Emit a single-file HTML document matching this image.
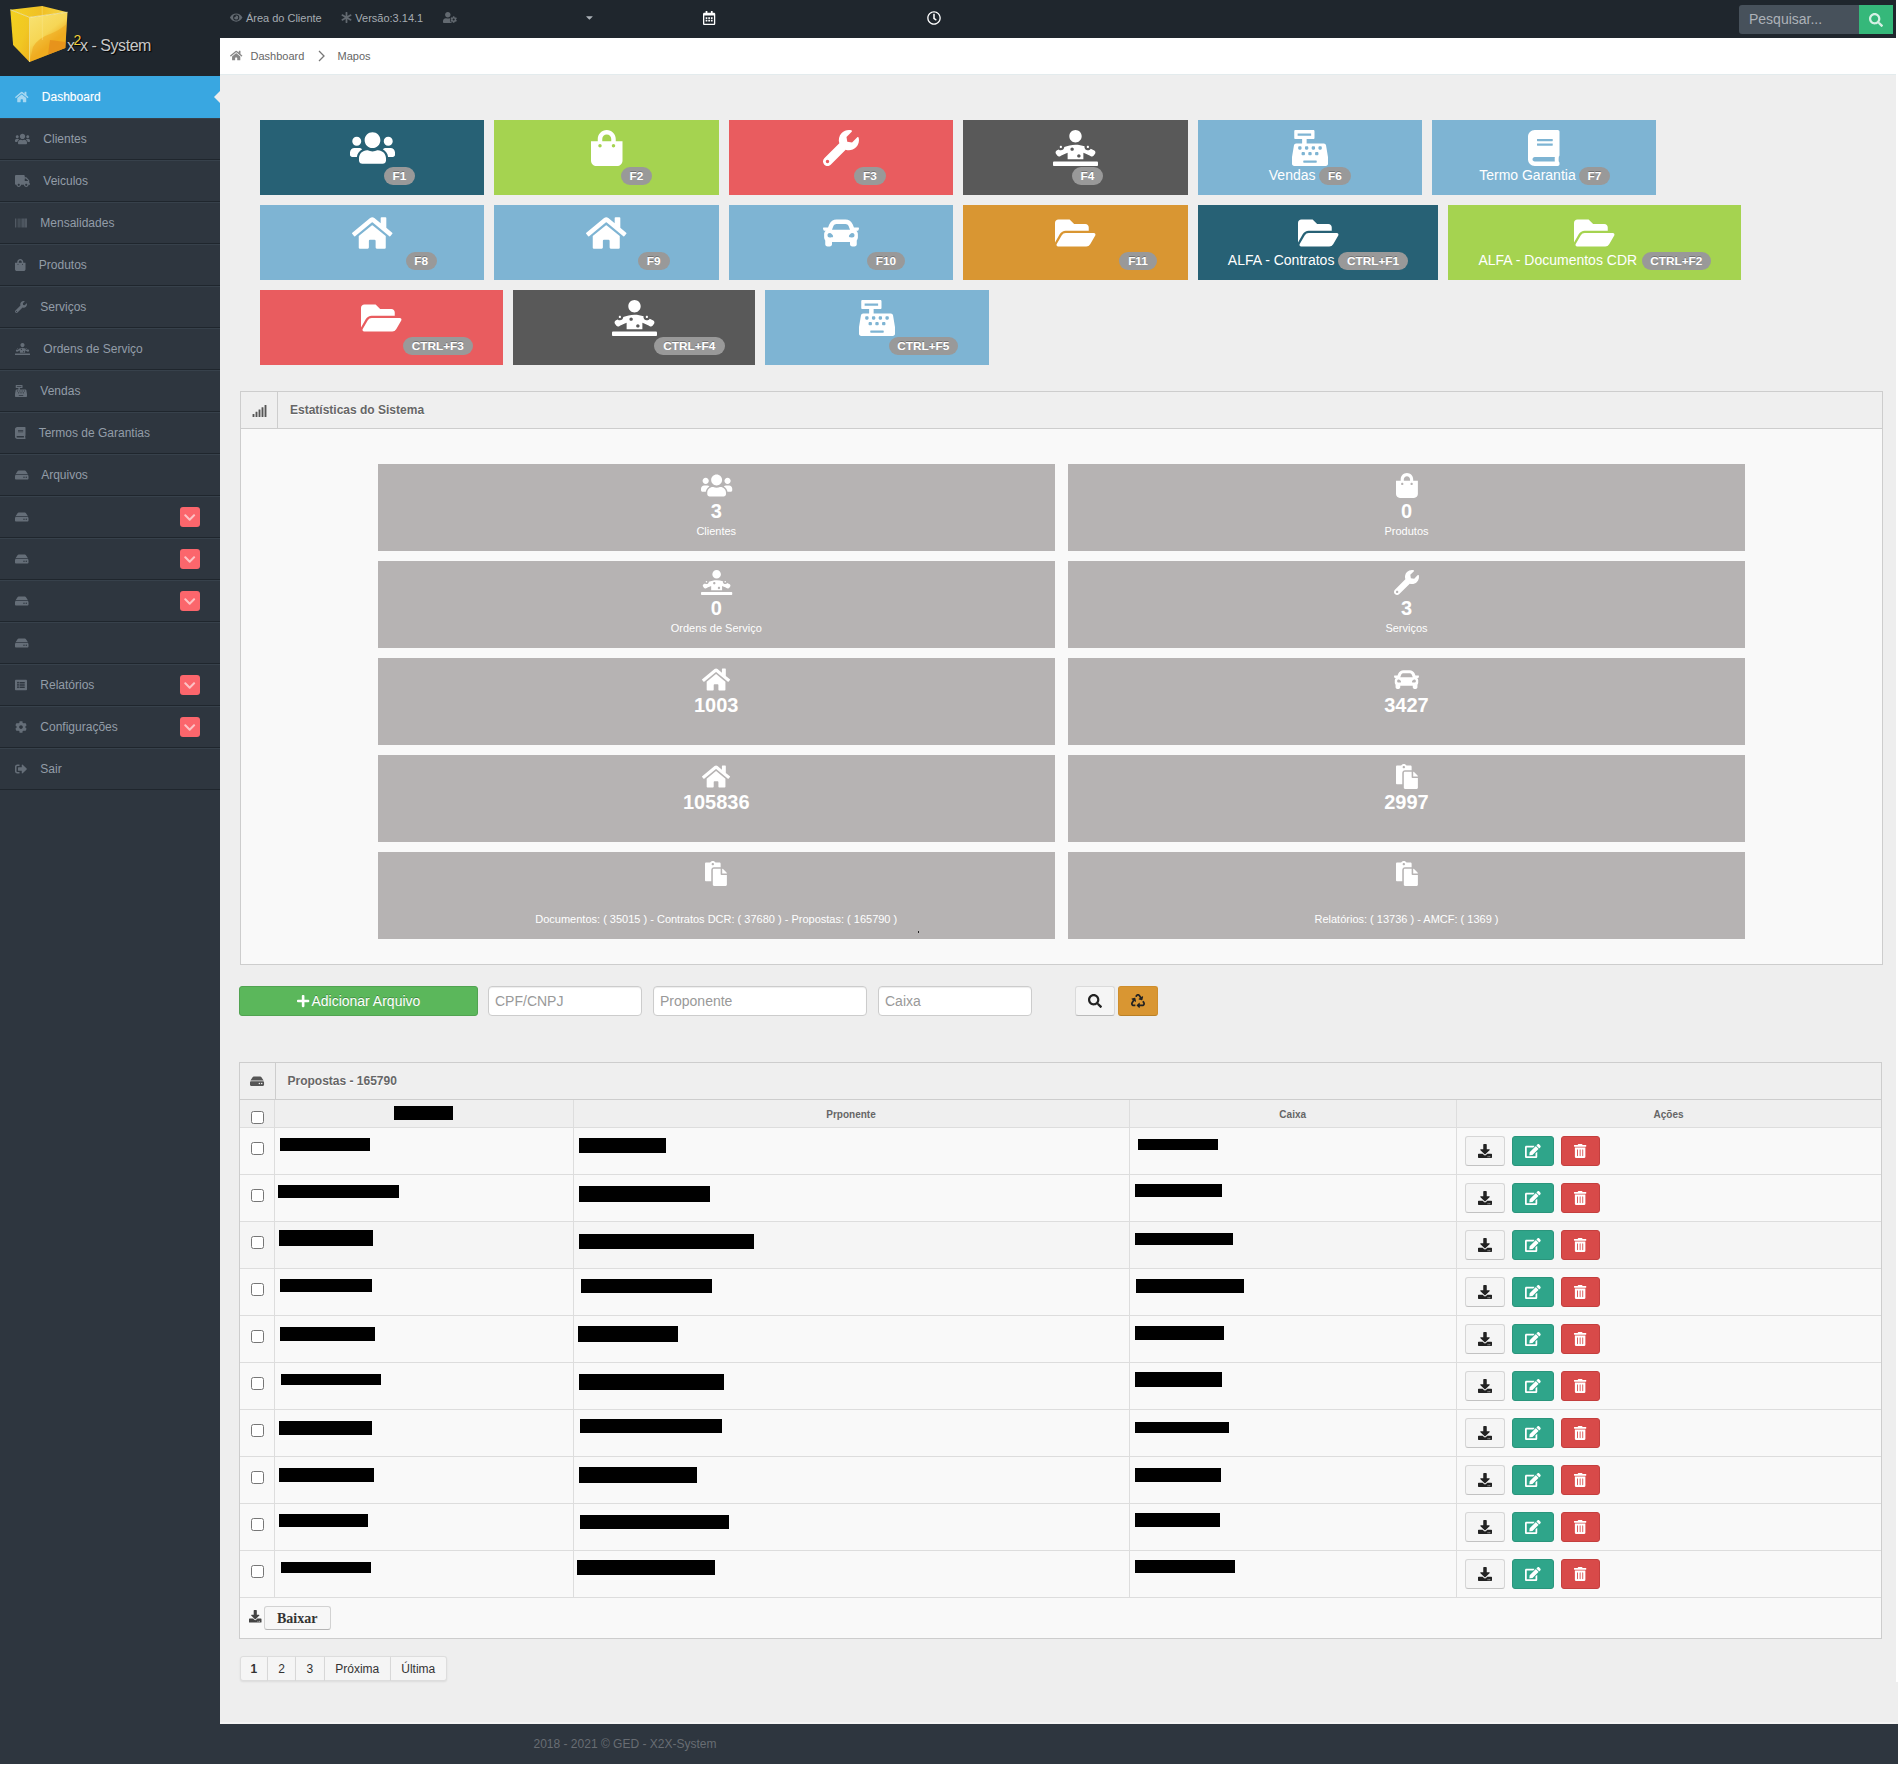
<!DOCTYPE html><html lang="pt-br"><head><meta charset="utf-8"><title>X2X - System</title><style>

*{box-sizing:border-box}
html,body{margin:0;padding:0}
body{width:1898px;height:1768px;background:#fff;font-family:"Liberation Sans",Arial,sans-serif;font-size:12px;color:#666;overflow:hidden;position:relative}
.ic{display:inline-block;vertical-align:-0.125em;overflow:visible}
#wrap{position:absolute;left:0;top:0;width:1896px;height:1763.5px;background:#2E363F;overflow:hidden}
#header{position:absolute;left:0;top:0;width:1896px;height:38px;background:#1f262d}
#logo{position:absolute;left:0;top:0;width:220px;height:76px;background:#1f262d}
#logo .t{position:absolute;left:67px;top:35.5px;font-size:16px;line-height:20px;color:#c9c9c9;white-space:nowrap;text-shadow:1px 1px 1px #000;letter-spacing:-0.45px}
#logo .t sup{font-size:14px;color:#f2cf3a;position:relative;top:-5.5px;vertical-align:baseline;margin:0 -1px}
.un{position:absolute;top:0;height:38px;line-height:37px;font-size:11px;color:#a6acb2;white-space:nowrap}
#search-in{position:absolute;left:1739px;top:5px;width:120px;height:29px;background:#47515b;border-radius:3px 0 0 3px;color:#adb2b8;font-size:14px;line-height:28px;padding-left:10px}
#search-bt{position:absolute;left:1859px;top:5px;width:34px;height:29px;background:#35b87a;display:flex;align-items:center;justify-content:center}
#search-bt .ic{display:block}
#crumb{position:absolute;left:220px;top:38px;width:1676px;height:37px;background:#fff;border-bottom:1px solid #e3ebed}
#crumb span{position:absolute;top:0;line-height:36px;font-size:11px;color:#666;white-space:nowrap}
#content{position:absolute;left:220px;top:75px;width:1676px;height:1649px;background:#eeeeee}
#sidebar{position:absolute;left:0;top:76px;width:220px}
#sidebar ul{list-style:none;margin:0;padding:0}
#sidebar li{height:42px;border-top:1px solid #37414b;border-bottom:1px solid #1f262d;position:relative;padding:10px 0 10px 15px;line-height:20px;font-size:12px;color:#939da8;white-space:nowrap}
#sidebar li.active{background:#39a7e1;color:#fff;border-top-color:#39a7e1;border-bottom-color:#39a7e1;text-shadow:0 0 1px rgba(255,255,255,.4)}
#sidebar li>.ic{margin-right:10px}
#sidebar li.active:after{content:"";position:absolute;right:0;top:14px;border:6px solid transparent;border-right:6px solid #eee;border-left:0;width:0;height:0}
.lab{position:absolute;left:180px;top:10px;width:20px;height:20px;border-radius:3px;background:#fb666c;text-align:center;line-height:20px}
.tile{position:absolute;height:75px;color:#fff;font-size:14px}
.tile .icw{position:absolute;left:0;right:0;top:9.5px;text-align:center;line-height:36px;height:36px}
.tile .icw .ic{vertical-align:top}
.tile .txt{position:absolute;top:45px;line-height:20px;white-space:nowrap}
.badge{position:absolute;height:18px;border-radius:9px;background:#999;color:#fff;font-weight:bold;font-size:11.844px;line-height:18px;text-align:center;white-space:nowrap;text-shadow:0 -1px 0 rgba(0,0,0,.25)}
.wbox{position:absolute;background:#f9f9f9;border:1px solid #cdcdcd}
.wtitle{position:absolute;left:0;top:0;right:0;height:37px;background:#efefef;border-bottom:1px solid #cdcdcd}
.wtitle .ici{position:absolute;left:0;top:0;width:37px;height:36px;border-right:1px solid #cdcdcd;display:flex;align-items:center;justify-content:center;padding-top:1px}
.wtitle .ici .ic{display:block}
.wtitle h5{position:absolute;left:49px;top:0;margin:0;font-size:12px;line-height:36px;font-weight:bold;color:#666;text-shadow:0 1px 0 #fff}
.stat{position:absolute;height:86.5px;background:#b6b3b3;color:#fff;text-align:center}
.stat .si{position:absolute;left:0;right:0;top:9px;height:25px;line-height:25px}
.stat .si .ic{vertical-align:top}
.stat strong{position:absolute;left:0;right:0;top:35px;font-size:20px;line-height:24px;font-weight:bold}
.stat small{position:absolute;left:0;right:0;top:58px;font-size:11px;line-height:18px}
.inp{position:absolute;top:986px;height:30px;background:#fff;border:1px solid #ccc;border-radius:4px;font-size:14px;line-height:28px;color:#999;padding-left:6px;box-shadow:inset 0 1px 1px rgba(0,0,0,.075)}
.btn{position:absolute;border-radius:3px;text-align:center;display:flex;align-items:center;justify-content:center}
.btn .ic{vertical-align:top;display:block}
table{border-collapse:collapse}
.pg{position:absolute;top:1655.5px;height:25px;border:1px solid #ddd;border-left:0;background:#f5f5f5;font-size:12px;line-height:24px;color:#333;text-align:center;box-shadow:0 1px 2px rgba(0,0,0,.08)}
.chk{position:absolute;width:13px;height:13px;border:1px solid #767676;border-radius:2.5px;background:#fff}
.bar{position:absolute;background:#000}

</style></head><body>
<div id="wrap">
<div id="content"></div>
<div id="header"></div>
<div id="logo"><svg style="position:absolute;left:0;top:0" width="80" height="70" viewBox="0 0 80 70">
<defs>
<linearGradient id="gl" x1="0" y1="0" x2="1" y2="1"><stop offset="0" stop-color="#f3d21f"/><stop offset=".6" stop-color="#f1c723"/><stop offset="1" stop-color="#eeb21c"/></linearGradient>
<linearGradient id="gr" x1="0" y1="0" x2="0.6" y2="1"><stop offset="0" stop-color="#f8e374"/><stop offset=".5" stop-color="#f6d655"/><stop offset=".72" stop-color="#efb225"/><stop offset="1" stop-color="#f0b81f"/></linearGradient>
<linearGradient id="gt" x1="0" y1="0" x2="1" y2="0"><stop offset="0" stop-color="#f3d325"/><stop offset=".55" stop-color="#f0bf24"/><stop offset="1" stop-color="#f5d84a"/></linearGradient>
</defs>
<polygon points="10.3,9.7 42.2,6.1 67.5,12.2 29.5,17.3" fill="url(#gt)"/>
<polygon points="10.3,9.7 29.5,17.3 29.5,62 13.1,45.1" fill="url(#gl)"/>
<polygon points="29.5,17.3 67.5,12.2 65.3,48.1 29.5,62" fill="url(#gr)"/>
<path d="M29.5 62 L33 47 Q38 38 50 34 Q60 30 66.5 24 L65.3 48.1 Z" fill="#eea61c" opacity=".55"/>
<path d="M50 40 L65.5 42 L65.3 48.1 L48 54.5 Z" fill="#e0801a" opacity=".55"/>
<polyline points="10.3,9.7 29.5,17.3 67.5,12.2" fill="none" stroke="#fdf3b8" stroke-width="0.8" opacity=".9"/>
<line x1="29.5" y1="17.3" x2="29.5" y2="62" stroke="#fbe98f" stroke-width="1" opacity=".8"/>
<line x1="42.2" y1="6.1" x2="42.5" y2="40" stroke="#fbe98f" stroke-width="1.2" opacity=".35"/>
</svg><div class="t">x<sup>2</sup>x - System</div></div>
<div class="un" style="left:230px"><svg class="ic" viewBox="0 0 576 512" style="width:12.38px;height:11px;fill:#626970;"><path d="M572.52 241.4C518.29 135.59 410.93 64 288 64S57.68 135.64 3.480 241.410a32.350 32.350 0 0 0 0 29.190C57.710 376.410 165.070 448 288 448s230.320-71.640 284.520-177.410a32.350 32.350 0 0 0 0-29.190zM288 400a144 144 0 1 1 144-144 143.930 143.930 0 0 1-144 144zm0-240a95.310 95.310 0 0 0-25.310 3.790 47.850 47.850 0 0 1-66.900 66.900A95.780 95.780 0 1 0 288 160z"/></svg><span style="margin-left:3.5px">Área do Cliente</span></div>
<div class="un" style="left:341px"><svg class="ic" viewBox="0 0 512 512" style="width:11.00px;height:11px;fill:#626970;"><path d="M478.21 334.093L336 256l142.210-78.093c11.795-6.477 15.961-21.384 9.232-33.037l-19.480-33.741c-6.728-11.653-21.720-15.499-33.227-8.523L296 186.718l3.475-162.204C299.763 11.061 288.937 0 275.480 0h-38.960c-13.456 0-24.283 11.061-23.994 24.514L216 186.718 77.265 102.607c-11.506-6.976-26.499-3.130-33.227 8.523l-19.480 33.741c-6.728 11.653-2.562 26.560 9.233 33.037L176 256 33.790 334.093c-11.795 6.477-15.961 21.384-9.232 33.037l19.480 33.741c6.728 11.653 21.721 15.499 33.227 8.523L216 325.282l-3.475 162.204C212.237 500.939 223.064 512 236.520 512h38.961c13.456 0 24.283-11.061 23.995-24.514L296 325.282l138.735 84.111c11.506 6.976 26.499 3.130 33.227-8.523l19.480-33.741c6.728-11.653 2.563-26.559-9.232-33.036z"/></svg><span style="margin-left:3.3px">Versão:3.14.1</span></div>
<div class="un" style="left:443px"><svg class="ic" viewBox="0 0 640 512" style="width:13.75px;height:11px;fill:#626970;"><path d="M610.5 373.3c2.6-14.1 2.6-28.5 0-42.6l25.800-14.900c3-1.700 4.300-5.200 3.300-8.500-6.700-21.600-18.200-41.200-33.200-57.400-2.300-2.500-6-3.100-9-1.400l-25.800 14.900c-10.900-9.300-23.400-16.500-36.900-21.300v-29.800c0-3.400-2.400-6.400-5.700-7.100-22.300-5-45-4.800-66.200 0-3.300.7-5.700 3.700-5.700 7.100v29.800c-13.500 4.800-26 12-36.900 21.300l-25.800-14.900c-2.900-1.700-6.700-1.100-9 1.400-15 16.200-26.500 35.800-33.200 57.400-1 3.300.4 6.800 3.300 8.500l25.800 14.900c-2.600 14.100-2.600 28.500 0 42.600l-25.800 14.900c-3 1.700-4.300 5.200-3.300 8.500 6.700 21.600 18.200 41.100 33.200 57.400 2.300 2.500 6 3.100 9 1.400l25.800-14.900c10.900 9.300 23.400 16.500 36.900 21.300v29.800c0 3.400 2.400 6.400 5.700 7.100 22.300 5 45 4.800 66.200 0 3.300-.7 5.700-3.700 5.700-7.100v-29.800c13.500-4.800 26-12 36.900-21.300l25.800 14.900c2.900 1.700 6.700 1.100 9-1.400 15-16.200 26.500-35.800 33.200-57.400 1-3.300-.4-6.800-3.300-8.500l-25.800-14.900zM496 400.500c-26.800 0-48.500-21.800-48.500-48.500s21.800-48.500 48.500-48.500 48.500 21.800 48.500 48.500-21.700 48.500-48.500 48.500zM224 256c70.700 0 128-57.300 128-128S294.700 0 224 0 96 57.300 96 128s57.300 128 128 128zm201.200 226.500c-2.300-1.200-4.600-2.600-6.800-3.900l-7.900 4.600c-6 3.400-12.800 5.300-19.600 5.300-10.900 0-21.400-4.600-28.900-12.600-18.300-19.800-32.300-43.900-40.200-69.600-5.500-17.700 1.900-36.400 17.900-45.700l7.900-4.600c-.1-2.600-.1-5.200 0-7.800l-7.900-4.600c-16-9.200-23.400-28-17.900-45.700.9-2.900 2.200-5.800 3.200-8.700-3.800-.3-7.500-1.200-11.400-1.200h-16.700c-22.200 10.200-46.900 16-72.900 16s-50.600-5.800-72.900-16h-16.700C60.200 288 0 348.200 0 422.400V464c0 26.500 21.500 48 48 48h352c10.100 0 19.500-3.200 27.200-8.500-1.200-3.800-2-7.700-2-11.800v-9.200z"/></svg></div>
<div class="un" style="left:585.5px"><svg class="ic" viewBox="0 0 320 512" style="width:6.88px;height:11px;fill:#aab0b6;"><path d="M31.3 192h257.300c17.800 0 26.700 21.500 14.100 34.100L174.100 354.800c-7.800 7.800-20.500 7.800-28.300 0L17.200 226.100C4.600 213.500 13.500 192 31.300 192z"/></svg></div>
<div class="un" style="left:702.5px;top:2px"><svg class="ic" viewBox="0 0 448 512" style="width:12.25px;height:14px;fill:#fff;"><path d="M148 288h-40c-6.600 0-12-5.400-12-12v-40c0-6.600 5.400-12 12-12h40c6.600 0 12 5.400 12 12v40c0 6.600-5.400 12-12 12zm108-12v-40c0-6.600-5.400-12-12-12h-40c-6.600 0-12 5.400-12 12v40c0 6.600 5.400 12 12 12h40c6.600 0 12-5.400 12-12zm96 0v-40c0-6.600-5.400-12-12-12h-40c-6.600 0-12 5.400-12 12v40c0 6.600 5.400 12 12 12h40c6.600 0 12-5.400 12-12zm-96 96v-40c0-6.600-5.400-12-12-12h-40c-6.600 0-12 5.400-12 12v40c0 6.600 5.400 12 12 12h40c6.600 0 12-5.400 12-12zm-96 0v-40c0-6.600-5.400-12-12-12h-40c-6.600 0-12 5.400-12 12v40c0 6.600 5.400 12 12 12h40c6.600 0 12-5.400 12-12zm192 0v-40c0-6.600-5.400-12-12-12h-40c-6.600 0-12 5.400-12 12v40c0 6.600 5.400 12 12 12h40c6.600 0 12-5.400 12-12zm96-260v352c0 26.500-21.500 48-48 48H48c-26.500 0-48-21.500-48-48V112c0-26.500 21.500-48 48-48h48V12c0-6.600 5.400-12 12-12h40c6.600 0 12 5.400 12 12v52h128V12c0-6.600 5.400-12 12-12h40c6.600 0 12 5.400 12 12v52h48c26.500 0 48 21.500 48 48zm-48 346V160H48v298c0 3.300 2.700 6 6 6h340c3.300 0 6-2.700 6-6z"/></svg></div>
<div class="un" style="left:927px;top:2px"><svg class="ic" viewBox="0 0 512 512" style="width:14.00px;height:14px;fill:#fff;"><path d="M256 8C119 8 8 119 8 256s111 248 248 248 248-111 248-248S393 8 256 8zm0 448c-110.500 0-200-89.500-200-200S145.500 56 256 56s200 89.500 200 200-89.500 200-200 200zm61.800-104.400l-84.900-61.700c-3.100-2.300-4.900-5.900-4.900-9.700V116c0-6.600 5.400-12 12-12h32c6.600 0 12 5.400 12 12v141.700l66.800 48.600c5.400 3.900 6.500 11.400 2.600 16.800L334.600 349c-3.900 5.300-11.400 6.500-16.800 2.600z"/></svg></div>
<div id="search-in">Pesquisar...</div>
<div id="search-bt"><svg class="ic" viewBox="0 0 512 512" style="width:14.00px;height:14px;fill:#fff;opacity:0.8;"><path d="M505 442.700L405.300 343c-4.500-4.500-10.600-7-17-7H372c27.600-35.300 44-79.700 44-128C416 93.100 322.900 0 208 0S0 93.100 0 208s93.100 208 208 208c48.300 0 92.700-16.400 128-44v16.300c0 6.400 2.500 12.500 7 17l99.700 99.700c9.400 9.400 24.600 9.400 33.900 0l28.300-28.300c9.400-9.400 9.400-24.600.1-34zM208 336c-70.700 0-128-57.200-128-128 0-70.700 57.200-128 128-128 70.700 0 128 57.200 128 128 0 70.700-57.200 128-128 128z"/></svg></div>
<div id="crumb"><span style="left:10px"><svg class="ic" viewBox="0 0 576 512" style="width:12.38px;height:11px;fill:#888;"><path d="M280.37 148.26L96 300.11V464a16 16 0 0 0 16 16l112.06-.29a16 16 0 0 0 15.92-16V368a16 16 0 0 1 16-16h64a16 16 0 0 1 16 16v95.64a16 16 0 0 0 16 16.05L464 480a16 16 0 0 0 16-16V300L295.67 148.26a12.19 12.19 0 0 0-15.3 0zM571.6 251.47L488 182.56V44.05a12 12 0 0 0-12-12h-56a12 12 0 0 0-12 12v72.61L318.47 43a48 48 0 0 0-61 0L4.34 251.47a12 12 0 0 0-1.6 16.9l25.5 31A12 12 0 0 0 45.15 301l235.22-193.74a12.19 12.19 0 0 1 15.3 0L530.9 301a12 12 0 0 0 16.9-1.6l25.5-31a12 12 0 0 0-1.7-16.93z"/></svg></span><span style="left:30.5px">Dashboard</span><svg style="position:absolute;left:97px;top:12px" width="9" height="12" viewBox="0 0 9 12"><polyline points="2,1 7,6 2,11" fill="none" stroke="#777" stroke-width="1.3"/></svg><span style="left:117.5px">Mapos</span></div>
<div id="sidebar"><ul>
<li class="active"><svg class="ic" viewBox="0 0 576 512" style="width:13.50px;height:12px;fill:#fff;opacity:0.55;"><path d="M280.37 148.26L96 300.11V464a16 16 0 0 0 16 16l112.06-.29a16 16 0 0 0 15.92-16V368a16 16 0 0 1 16-16h64a16 16 0 0 1 16 16v95.64a16 16 0 0 0 16 16.05L464 480a16 16 0 0 0 16-16V300L295.67 148.26a12.19 12.19 0 0 0-15.3 0zM571.6 251.47L488 182.56V44.05a12 12 0 0 0-12-12h-56a12 12 0 0 0-12 12v72.61L318.47 43a48 48 0 0 0-61 0L4.34 251.47a12 12 0 0 0-1.6 16.9l25.5 31A12 12 0 0 0 45.15 301l235.22-193.74a12.19 12.19 0 0 1 15.3 0L530.9 301a12 12 0 0 0 16.9-1.6l25.5-31a12 12 0 0 0-1.7-16.93z"/></svg> <span>Dashboard</span></li>
<li><svg class="ic" viewBox="0 0 640 512" style="width:15.00px;height:12px;fill:#939da8;opacity:0.55;"><path d="M96 224c35.3 0 64-28.7 64-64s-28.7-64-64-64-64 28.7-64 64 28.7 64 64 64zm448 0c35.3 0 64-28.7 64-64s-28.7-64-64-64-64 28.7-64 64 28.7 64 64 64zm32 32h-64c-17.6 0-33.5 7.1-45.1 18.6 40.3 22.1 68.9 62 75.1 109.4h66c17.7 0 32-14.3 32-32v-32c0-35.3-28.7-64-64-64zm-256 0c61.9 0 112-50.1 112-112S381.9 32 320 32 208 82.1 208 144s50.1 112 112 112zm76.8 32h-8.3c-20.8 10-43.9 16-68.5 16s-47.6-6-68.5-16h-8.3C179.6 288 128 339.6 128 403.2V432c0 26.5 21.5 48 48 48h288c26.5 0 48-21.5 48-48v-28.8c0-63.6-51.6-115.2-115.2-115.2zm-223.7-13.4C161.5 263.1 145.6 256 128 256H64c-35.3 0-64 28.7-64 64v32c0 17.7 14.3 32 32 32h65.900c6.3-47.4 34.9-87.3 75.2-109.4z"/></svg> <span>Clientes</span></li>
<li><svg class="ic" viewBox="0 0 640 512" style="width:15.00px;height:12px;fill:#939da8;opacity:0.55;"><path d="M624 352h-16V243.9c0-12.7-5.1-24.9-14.1-33.9L494 110.1c-9-9-21.2-14.1-33.9-14.1H416V48c0-26.500-21.500-48-48-48H48C21.500 0 0 21.500 0 48v320c0 26.500 21.500 48 48 48h16c0 53 43 96 96 96s96-43 96-96h128c0 53 43 96 96 96s96-43 96-96h48c8.800 0 16-7.200 16-16v-32c0-8.800-7.200-16-16-16zM160 464c-26.500 0-48-21.500-48-48s21.500-48 48-48 48 21.500 48 48-21.500 48-48 48zm320 0c-26.500 0-48-21.500-48-48s21.500-48 48-48 48 21.500 48 48-21.500 48-48 48zm80-208H416V144h44.100l99.900 99.900V256z"/></svg> <span>Veiculos</span></li>
<li><svg class="ic" viewBox="0 0 512 512" style="width:12.00px;height:12px;fill:#939da8;opacity:0.55;"><path d="M0 448V64h18v384H0zm26.857-.273V64H36v383.727h-9.143zm27.143 0V64h8.857v383.727H54zm44.857 0V64h8.857v383.727h-8.857zm36 0V64h17.714v383.727h-17.714zm44.857 0V64h8.857v383.727h-8.857zm18 0V64h8.857v383.727h-8.857zm18 0V64h8.857v383.727h-8.857zm35.715 0V64h18v383.727h-18zm44.857 0V64h18v383.727h-18zm35.999 0V64h18.001v383.727h-18.001zm36.001 0V64h18.001v383.727h-18.001zm26.857 0V64h18v383.727h-18zm45.143 0V64h26.857v383.727h-26.857zm35.714 0V64h9.143v383.727H476zm18 .273V64h18v384h-18z"/></svg> <span>Mensalidades</span></li>
<li><svg class="ic" viewBox="0 0 448 512" style="width:10.50px;height:12px;fill:#939da8;opacity:0.55;"><path d="M352 160v-32C352 57.42 294.579 0 224 0 153.42 0 96 57.42 96 128v32H0v272c0 44.183 35.817 80 80 80h288c44.183 0 80-35.817 80-80V160h-96zm-192-32c0-35.29 28.71-64 64-64s64 28.71 64 64v32H160v-32zm160 120c-13.255 0-24-10.745-24-24s10.745-24 24-24 24 10.745 24 24-10.745 24-24 24zm-192 0c-13.255 0-24-10.745-24-24s10.745-24 24-24 24 10.745 24 24-10.745 24-24 24z"/></svg> <span>Produtos</span></li>
<li><svg class="ic" viewBox="0 0 512 512" style="width:12.00px;height:12px;fill:#939da8;opacity:0.55;"><path d="M507.73 109.1c-2.24-9.03-13.54-12.09-20.12-5.51l-74.36 74.36-67.88-11.31-11.31-67.88 74.36-74.36c6.62-6.62 3.43-17.9-5.66-20.16-47.38-11.74-99.55.91-136.58 37.93-39.64 39.64-50.55 97.1-34.05 147.2L18.74 402.76c-24.99 24.99-24.99 65.51 0 90.5 24.99 24.99 65.51 24.99 90.5 0l213.21-213.21c50.12 16.71 107.47 5.68 147.37-34.22 37.07-37.07 49.7-89.32 37.91-136.73zM64 472c-13.25 0-24-10.75-24-24 0-13.26 10.75-24 24-24s24 10.74 24 24c0 13.25-10.75 24-24 24z"/></svg> <span>Serviços</span></li>
<li><svg class="ic" viewBox="0 0 640 512" style="width:15.00px;height:12px;fill:#939da8;opacity:0.55;"><path d="M496 256c8.8 0 16-7.2 16-16s-7.2-16-16-16-16 7.2-16 16 7.2 16 16 16zm-176-80c48.5 0 88-39.5 88-88S368.5 0 320 0s-88 39.500-88 88 39.500 88 88 88zM59.800 364c10.200 15.300 29.300 17.800 42.900 9.800 16.200-9.600 56.200-31.700 105.300-48.600V416h224v-90.700c49.100 16.800 89.100 39 105.300 48.600 13.600 8 32.700 5.300 42.900-9.800l17.800-26.700c8.800-13.200 7.600-34.600-10-45.100-11.900-7.100-29.700-17-51.100-27.400-28.100 46.100-99.400 17.800-87.700-35.100C409.300 217.200 365.100 208 320 208c-57 0-112.900 14.500-160 32.200-.2 40.200-47.600 63.300-79.200 36-11.200 6-21.300 11.600-28.700 16-17.600 10.500-18.800 31.800-10 45.100L59.800 364zM368 344c13.300 0 24 10.700 24 24s-10.700 24-24 24-24-10.700-24-24 10.700-24 24-24zm-96-96c13.300 0 24 10.700 24 24s-10.700 24-24 24-24-10.700-24-24 10.700-24 24-24zm-160 8c8.800 0 16-7.200 16-16s-7.200-16-16-16-16 7.200-16 16 7.200 16 16 16zm512 192H16c-8.800 0-16 7.200-16 16v32c0 8.800 7.200 16 16 16h608c8.800 0 16-7.200 16-16v-32c0-8.800-7.200-16-16-16z"/></svg> <span>Ordens de Serviço</span></li>
<li><svg class="ic" viewBox="0 0 512 512" style="width:12.00px;height:12px;fill:#939da8;opacity:0.55;"><path d="M511.1 378.8l-26.7-160c-2.6-15.4-15.9-26.7-31.6-26.7H208v-64h96c8.8 0 16-7.2 16-16V16c0-8.8-7.2-16-16-16H48c-8.8 0-16 7.2-16 16v96c0 8.800 7.2 16 16 16h96v64H59.100c-15.600 0-29 11.300-31.600 26.700L.8 378.700c-.6 3.500-.9 7-.9 10.500V480c0 17.700 14.300 32 32 32h448c17.700 0 32-14.300 32-32v-90.700c.1-3.500-.2-7-.8-10.500zM280 248c0-8.800 7.200-16 16-16h16c8.800 0 16 7.200 16 16v16c0 8.800-7.200 16-16 16h-16c-8.800 0-16-7.200-16-16v-16zm-32 64h16c8.800 0 16 7.200 16 16v16c0 8.800-7.200 16-16 16h-16c-8.800 0-16-7.200-16-16v-16c0-8.800 7.200-16 16-16zm-32-80c8.800 0 16 7.200 16 16v16c0 8.800-7.200 16-16 16h-16c-8.800 0-16-7.200-16-16v-16c0-8.800 7.200-16 16-16h16zM80 80V48h192v32H80zm40 200h-16c-8.800 0-16-7.200-16-16v-16c0-8.800 7.200-16 16-16h16c8.800 0 16 7.200 16 16v16c0 8.800-7.200 16-16 16zm16 64v-16c0-8.800 7.200-16 16-16h16c8.800 0 16 7.200 16 16v16c0 8.800-7.200 16-16 16h-16c-8.800 0-16-7.200-16-16zm216 112c0 4.400-3.600 8-8 8H168c-4.400 0-8-3.600-8-8v-16c0-4.400 3.600-8 8-8h176c4.400 0 8 3.600 8 8v16zm24-112c0 8.800-7.200 16-16 16h-16c-8.800 0-16-7.200-16-16v-16c0-8.800 7.200-16 16-16h16c8.800 0 16 7.200 16 16v16zm48-80c0 8.800-7.200 16-16 16h-16c-8.800 0-16-7.200-16-16v-16c0-8.800 7.200-16 16-16h16c8.800 0 16 7.200 16 16v16z"/></svg> <span>Vendas</span></li>
<li><svg class="ic" viewBox="0 0 448 512" style="width:10.50px;height:12px;fill:#939da8;opacity:0.55;"><path d="M448 360V24c0-13.3-10.7-24-24-24H96C43 0 0 43 0 96v320c0 53 43 96 96 96h328c13.3 0 24-10.7 24-24v-16c0-7.5-3.5-14.3-8.9-18.7-4.2-15.4-4.2-59.3 0-74.700 5.4-4.3 8.9-11.1 8.9-18.600zM128 134c0-3.3 2.7-6 6-6h212c3.3 0 6 2.7 6 6v20c0 3.3-2.7 6-6 6H134c-3.300 0-6-2.7-6-6v-20zm0 64c0-3.3 2.7-6 6-6h212c3.3 0 6 2.7 6 6v20c0 3.3-2.7 6-6 6H134c-3.3 0-6-2.7-6-6v-20zm253.400 250H96c-17.700 0-32-14.300-32-32 0-17.600 14.400-32 32-32h285.400c-1.900 17.100-1.900 46.900 0 64z"/></svg> <span>Termos de Garantias</span></li>
<li><svg class="ic" viewBox="0 0 576 512" style="width:13.50px;height:12px;fill:#939da8;opacity:0.55;"><path d="M576 304v96c0 26.51-21.49 48-48 48H48c-26.51 0-48-21.49-48-48v-96c0-26.51 21.49-48 48-48h480c26.51 0 48 21.49 48 48zm-48-80a79.557 79.557 0 0 1 30.777 6.165L462.25 85.374A48.003 48.003 0 0 0 422.311 64H153.689a48 48 0 0 0-39.938 21.374L17.223 230.165A79.557 79.557 0 0 1 48 224h480zm-48 96c-17.673 0-32 14.327-32 32s14.327 32 32 32 32-14.327 32-32-14.327-32-32-32zm-96 0c-17.673 0-32 14.327-32 32s14.327 32 32 32 32-14.327 32-32-14.327-32-32-32z"/></svg> <span>Arquivos</span></li>
<li><svg class="ic" viewBox="0 0 576 512" style="width:13.50px;height:12px;fill:#939da8;opacity:0.55;"><path d="M576 304v96c0 26.51-21.49 48-48 48H48c-26.51 0-48-21.49-48-48v-96c0-26.51 21.49-48 48-48h480c26.51 0 48 21.49 48 48zm-48-80a79.557 79.557 0 0 1 30.777 6.165L462.25 85.374A48.003 48.003 0 0 0 422.311 64H153.689a48 48 0 0 0-39.938 21.374L17.223 230.165A79.557 79.557 0 0 1 48 224h480zm-48 96c-17.673 0-32 14.327-32 32s14.327 32 32 32 32-14.327 32-32-14.327-32-32-32zm-96 0c-17.673 0-32 14.327-32 32s14.327 32 32 32 32-14.327 32-32-14.327-32-32-32z"/></svg><span class="lab"><svg class="ic" viewBox="0 0 448 512" style="width:11.38px;height:13px;fill:#fff;opacity:0.6;vertical-align:-3px"><path d="M207.029 381.476L12.686 187.132c-9.373-9.373-9.373-24.569 0-33.941l22.667-22.667c9.357-9.357 24.522-9.375 33.901-.04L224 284.505l154.745-154.021c9.379-9.335 24.544-9.317 33.901.04l22.667 22.667c9.373 9.373 9.373 24.569 0 33.941L240.971 381.476c-9.373 9.372-24.569 9.372-33.942 0z"/></svg></span></li>
<li><svg class="ic" viewBox="0 0 576 512" style="width:13.50px;height:12px;fill:#939da8;opacity:0.55;"><path d="M576 304v96c0 26.51-21.49 48-48 48H48c-26.51 0-48-21.49-48-48v-96c0-26.51 21.49-48 48-48h480c26.51 0 48 21.49 48 48zm-48-80a79.557 79.557 0 0 1 30.777 6.165L462.25 85.374A48.003 48.003 0 0 0 422.311 64H153.689a48 48 0 0 0-39.938 21.374L17.223 230.165A79.557 79.557 0 0 1 48 224h480zm-48 96c-17.673 0-32 14.327-32 32s14.327 32 32 32 32-14.327 32-32-14.327-32-32-32zm-96 0c-17.673 0-32 14.327-32 32s14.327 32 32 32 32-14.327 32-32-14.327-32-32-32z"/></svg><span class="lab"><svg class="ic" viewBox="0 0 448 512" style="width:11.38px;height:13px;fill:#fff;opacity:0.6;vertical-align:-3px"><path d="M207.029 381.476L12.686 187.132c-9.373-9.373-9.373-24.569 0-33.941l22.667-22.667c9.357-9.357 24.522-9.375 33.901-.04L224 284.505l154.745-154.021c9.379-9.335 24.544-9.317 33.901.04l22.667 22.667c9.373 9.373 9.373 24.569 0 33.941L240.971 381.476c-9.373 9.372-24.569 9.372-33.942 0z"/></svg></span></li>
<li><svg class="ic" viewBox="0 0 576 512" style="width:13.50px;height:12px;fill:#939da8;opacity:0.55;"><path d="M576 304v96c0 26.51-21.49 48-48 48H48c-26.51 0-48-21.49-48-48v-96c0-26.51 21.49-48 48-48h480c26.51 0 48 21.49 48 48zm-48-80a79.557 79.557 0 0 1 30.777 6.165L462.25 85.374A48.003 48.003 0 0 0 422.311 64H153.689a48 48 0 0 0-39.938 21.374L17.223 230.165A79.557 79.557 0 0 1 48 224h480zm-48 96c-17.673 0-32 14.327-32 32s14.327 32 32 32 32-14.327 32-32-14.327-32-32-32zm-96 0c-17.673 0-32 14.327-32 32s14.327 32 32 32 32-14.327 32-32-14.327-32-32-32z"/></svg><span class="lab"><svg class="ic" viewBox="0 0 448 512" style="width:11.38px;height:13px;fill:#fff;opacity:0.6;vertical-align:-3px"><path d="M207.029 381.476L12.686 187.132c-9.373-9.373-9.373-24.569 0-33.941l22.667-22.667c9.357-9.357 24.522-9.375 33.901-.04L224 284.505l154.745-154.021c9.379-9.335 24.544-9.317 33.901.04l22.667 22.667c9.373 9.373 9.373 24.569 0 33.941L240.971 381.476c-9.373 9.372-24.569 9.372-33.942 0z"/></svg></span></li>
<li><svg class="ic" viewBox="0 0 576 512" style="width:13.50px;height:12px;fill:#939da8;opacity:0.55;"><path d="M576 304v96c0 26.51-21.49 48-48 48H48c-26.51 0-48-21.49-48-48v-96c0-26.51 21.49-48 48-48h480c26.51 0 48 21.49 48 48zm-48-80a79.557 79.557 0 0 1 30.777 6.165L462.25 85.374A48.003 48.003 0 0 0 422.311 64H153.689a48 48 0 0 0-39.938 21.374L17.223 230.165A79.557 79.557 0 0 1 48 224h480zm-48 96c-17.673 0-32 14.327-32 32s14.327 32 32 32 32-14.327 32-32-14.327-32-32-32zm-96 0c-17.673 0-32 14.327-32 32s14.327 32 32 32 32-14.327 32-32-14.327-32-32-32z"/></svg></li>
<li><svg class="ic" viewBox="0 0 512 512" style="width:12.00px;height:12px;fill:#939da8;opacity:0.55;"><path d="M464 480H48c-26.510 0-48-21.490-48-48V80c0-26.510 21.490-48 48-48h416c26.510 0 48 21.490 48 48v352c0 26.510-21.490 48-48 48zM128 120c-22.091 0-40 17.909-40 40s17.909 40 40 40 40-17.909 40-40-17.909-40-40-40zm0 96c-22.091 0-40 17.909-40 40s17.909 40 40 40 40-17.909 40-40-17.909-40-40-40zm0 96c-22.091 0-40 17.909-40 40s17.909 40 40 40 40-17.909 40-40-17.909-40-40-40zm288-136v-32c0-6.627-5.373-12-12-12H204c-6.627 0-12 5.373-12 12v32c0 6.627 5.373 12 12 12h200c6.627 0 12-5.373 12-12zm0 96v-32c0-6.627-5.373-12-12-12H204c-6.627 0-12 5.373-12 12v32c0 6.627 5.373 12 12 12h200c6.627 0 12-5.373 12-12zm0 96v-32c0-6.627-5.373-12-12-12H204c-6.627 0-12 5.373-12 12v32c0 6.627 5.373 12 12 12h200c6.627 0 12-5.373 12-12z"/></svg> <span>Relatórios</span><span class="lab"><svg class="ic" viewBox="0 0 448 512" style="width:11.38px;height:13px;fill:#fff;opacity:0.6;vertical-align:-3px"><path d="M207.029 381.476L12.686 187.132c-9.373-9.373-9.373-24.569 0-33.941l22.667-22.667c9.357-9.357 24.522-9.375 33.901-.04L224 284.505l154.745-154.021c9.379-9.335 24.544-9.317 33.901.04l22.667 22.667c9.373 9.373 9.373 24.569 0 33.941L240.971 381.476c-9.373 9.372-24.569 9.372-33.942 0z"/></svg></span></li>
<li><svg class="ic" viewBox="0 0 512 512" style="width:12.00px;height:12px;fill:#939da8;opacity:0.55;"><path d="M487.4 315.7l-42.600-24.600c4.300-23.200 4.300-47 0-70.200l42.600-24.600c4.900-2.800 7.100-8.600 5.500-14-11.100-35.600-30-67.800-54.700-94.600-3.800-4.100-10-5.100-14.800-2.300L380.800 110c-17.900-15.400-38.500-27.300-60.800-35.100V25.800c0-5.600-3.900-10.500-9.400-11.700-36.700-8.200-74.300-7.800-109.200 0-5.500 1.200-9.400 6.100-9.400 11.700V75c-22.200 7.900-42.800 19.800-60.800 35.100L88.700 85.500c-4.900-2.800-11-1.900-14.800 2.300-24.700 26.700-43.600 58.900-54.700 94.600-1.700 5.400.6 11.200 5.500 14L67.300 221c-4.300 23.200-4.300 47 0 70.200l-42.600 24.600c-4.900 2.800-7.100 8.600-5.500 14 11.100 35.600 30 67.800 54.700 94.600 3.800 4.100 10 5.100 14.800 2.300l42.600-24.600c17.900 15.400 38.500 27.300 60.800 35.100v49.200c0 5.600 3.900 10.500 9.400 11.700 36.700 8.200 74.300 7.800 109.200 0 5.500-1.200 9.400-6.100 9.400-11.700v-49.200c22.200-7.900 42.800-19.800 60.800-35.100l42.600 24.600c4.900 2.800 11 1.900 14.800-2.300 24.700-26.700 43.600-58.900 54.700-94.600 1.500-5.500-.7-11.300-5.600-14.100zM256 336c-44.100 0-80-35.900-80-80s35.900-80 80-80 80 35.900 80 80-35.900 80-80 80z"/></svg> <span>Configurações</span><span class="lab"><svg class="ic" viewBox="0 0 448 512" style="width:11.38px;height:13px;fill:#fff;opacity:0.6;vertical-align:-3px"><path d="M207.029 381.476L12.686 187.132c-9.373-9.373-9.373-24.569 0-33.941l22.667-22.667c9.357-9.357 24.522-9.375 33.901-.04L224 284.505l154.745-154.021c9.379-9.335 24.544-9.317 33.901.04l22.667 22.667c9.373 9.373 9.373 24.569 0 33.941L240.971 381.476c-9.373 9.372-24.569 9.372-33.942 0z"/></svg></span></li>
<li><svg class="ic" viewBox="0 0 512 512" style="width:12.00px;height:12px;fill:#939da8;opacity:0.55;"><path d="M497 273L329 441c-15 15-41 4.500-41-17v-96H152c-13.300 0-24-10.700-24-24v-96c0-13.300 10.700-24 24-24h136V88c0-21.400 25.900-32 41-17l168 168c9.300 9.400 9.300 24.600 0 34zM192 436v-40c0-6.600-5.400-12-12-12H96c-17.700 0-32-14.300-32-32V160c0-17.700 14.300-32 32-32h84c6.600 0 12-5.400 12-12V76c0-6.600-5.400-12-12-12H96c-53 0-96 43-96 96v192c0 53 43 96 96 96h84c6.600 0 12-5.400 12-12z"/></svg> <span>Sair</span></li>
</ul></div>
<div class="tile" style="left:260px;top:120px;width:224px;background:#276175"><div class="icw"><svg class="ic" viewBox="0 0 640 512" style="width:45.00px;height:36px;fill:#fff;"><path d="M96 224c35.3 0 64-28.7 64-64s-28.7-64-64-64-64 28.7-64 64 28.7 64 64 64zm448 0c35.3 0 64-28.7 64-64s-28.7-64-64-64-64 28.7-64 64 28.7 64 64 64zm32 32h-64c-17.6 0-33.5 7.1-45.1 18.6 40.3 22.1 68.9 62 75.1 109.4h66c17.7 0 32-14.3 32-32v-32c0-35.3-28.7-64-64-64zm-256 0c61.9 0 112-50.1 112-112S381.9 32 320 32 208 82.1 208 144s50.1 112 112 112zm76.8 32h-8.3c-20.8 10-43.9 16-68.5 16s-47.6-6-68.5-16h-8.3C179.6 288 128 339.6 128 403.2V432c0 26.5 21.5 48 48 48h288c26.5 0 48-21.5 48-48v-28.8c0-63.6-51.6-115.2-115.2-115.2zm-223.7-13.4C161.5 263.1 145.6 256 128 256H64c-35.3 0-64 28.7-64 64v32c0 17.7 14.3 32 32 32h65.900c6.3-47.4 34.9-87.3 75.2-109.4z"/></svg></div><span class="badge" style="left:124px;top:47px;width:31px">F1</span></div>
<div class="tile" style="left:494px;top:120px;width:225px;background:#a5d350"><div class="icw"><svg class="ic" viewBox="0 0 448 512" style="width:31.50px;height:36px;fill:#fff;"><path d="M352 160v-32C352 57.42 294.579 0 224 0 153.42 0 96 57.42 96 128v32H0v272c0 44.183 35.817 80 80 80h288c44.183 0 80-35.817 80-80V160h-96zm-192-32c0-35.29 28.71-64 64-64s64 28.71 64 64v32H160v-32zm160 120c-13.255 0-24-10.745-24-24s10.745-24 24-24 24 10.745 24 24-10.745 24-24 24zm-192 0c-13.255 0-24-10.745-24-24s10.745-24 24-24 24 10.745 24 24-10.745 24-24 24z"/></svg></div><span class="badge" style="left:127px;top:47px;width:31px">F2</span></div>
<div class="tile" style="left:729px;top:120px;width:224px;background:#e95c5f"><div class="icw"><svg class="ic" viewBox="0 0 512 512" style="width:36.00px;height:36px;fill:#fff;"><path d="M507.73 109.1c-2.24-9.03-13.54-12.09-20.12-5.51l-74.36 74.36-67.88-11.31-11.31-67.88 74.36-74.36c6.62-6.62 3.43-17.9-5.66-20.16-47.38-11.74-99.55.91-136.58 37.93-39.64 39.64-50.55 97.1-34.05 147.2L18.74 402.76c-24.99 24.99-24.99 65.51 0 90.5 24.99 24.99 65.51 24.99 90.5 0l213.21-213.21c50.12 16.71 107.47 5.68 147.37-34.22 37.07-37.07 49.7-89.32 37.91-136.73zM64 472c-13.25 0-24-10.75-24-24 0-13.26 10.75-24 24-24s24 10.74 24 24c0 13.25-10.75 24-24 24z"/></svg></div><span class="badge" style="left:125px;top:47px;width:32px">F3</span></div>
<div class="tile" style="left:963px;top:120px;width:225px;background:#595959"><div class="icw"><svg class="ic" viewBox="0 0 640 512" style="width:45.00px;height:36px;fill:#fff;"><path d="M496 256c8.8 0 16-7.2 16-16s-7.2-16-16-16-16 7.2-16 16 7.2 16 16 16zm-176-80c48.5 0 88-39.5 88-88S368.5 0 320 0s-88 39.500-88 88 39.500 88 88 88zM59.800 364c10.200 15.300 29.300 17.800 42.900 9.800 16.200-9.600 56.200-31.700 105.300-48.600V416h224v-90.700c49.100 16.800 89.100 39 105.300 48.600 13.600 8 32.700 5.300 42.900-9.800l17.800-26.700c8.800-13.200 7.600-34.600-10-45.100-11.900-7.100-29.700-17-51.100-27.400-28.100 46.100-99.400 17.800-87.700-35.100C409.300 217.200 365.100 208 320 208c-57 0-112.900 14.500-160 32.200-.2 40.200-47.600 63.300-79.200 36-11.200 6-21.300 11.600-28.700 16-17.600 10.500-18.800 31.800-10 45.100L59.800 364zM368 344c13.300 0 24 10.700 24 24s-10.700 24-24 24-24-10.700-24-24 10.700-24 24-24zm-96-96c13.300 0 24 10.700 24 24s-10.700 24-24 24-24-10.700-24-24 10.700-24 24-24zm-160 8c8.800 0 16-7.200 16-16s-7.200-16-16-16-16 7.200-16 16 7.200 16 16 16zm512 192H16c-8.800 0-16 7.200-16 16v32c0 8.800 7.200 16 16 16h608c8.800 0 16-7.200 16-16v-32c0-8.800-7.200-16-16-16z"/></svg></div><span class="badge" style="left:109px;top:47px;width:31px">F4</span></div>
<div class="tile" style="left:1198px;top:120px;width:224px;background:#7eb4d3"><div class="icw"><svg class="ic" viewBox="0 0 512 512" style="width:36.00px;height:36px;fill:#fff;"><path d="M511.1 378.8l-26.7-160c-2.6-15.4-15.9-26.7-31.6-26.7H208v-64h96c8.8 0 16-7.2 16-16V16c0-8.8-7.2-16-16-16H48c-8.8 0-16 7.2-16 16v96c0 8.800 7.2 16 16 16h96v64H59.100c-15.600 0-29 11.300-31.600 26.700L.8 378.700c-.6 3.500-.9 7-.9 10.500V480c0 17.700 14.300 32 32 32h448c17.700 0 32-14.300 32-32v-90.700c.1-3.500-.2-7-.8-10.500zM280 248c0-8.800 7.200-16 16-16h16c8.800 0 16 7.200 16 16v16c0 8.800-7.200 16-16 16h-16c-8.800 0-16-7.200-16-16v-16zm-32 64h16c8.800 0 16 7.200 16 16v16c0 8.800-7.200 16-16 16h-16c-8.800 0-16-7.200-16-16v-16c0-8.800 7.200-16 16-16zm-32-80c8.800 0 16 7.200 16 16v16c0 8.800-7.200 16-16 16h-16c-8.800 0-16-7.200-16-16v-16c0-8.800 7.200-16 16-16h16zM80 80V48h192v32H80zm40 200h-16c-8.800 0-16-7.200-16-16v-16c0-8.800 7.200-16 16-16h16c8.800 0 16 7.200 16 16v16c0 8.800-7.200 16-16 16zm16 64v-16c0-8.800 7.200-16 16-16h16c8.800 0 16 7.200 16 16v16c0 8.800-7.200 16-16 16h-16c-8.800 0-16-7.200-16-16zm216 112c0 4.400-3.600 8-8 8H168c-4.400 0-8-3.600-8-8v-16c0-4.400 3.600-8 8-8h176c4.400 0 8 3.600 8 8v16zm24-112c0 8.800-7.200 16-16 16h-16c-8.800 0-16-7.200-16-16v-16c0-8.800 7.200-16 16-16h16c8.800 0 16 7.200 16 16v16zm48-80c0 8.800-7.200 16-16 16h-16c-8.800 0-16-7.200-16-16v-16c0-8.800 7.200-16 16-16h16c8.800 0 16 7.200 16 16v16z"/></svg></div><span class="txt" style="left:70.79999999999995px">Vendas</span><span class="badge" style="left:121px;top:47px;width:32px">F6</span></div>
<div class="tile" style="left:1432px;top:120px;width:224px;background:#7eb4d3"><div class="icw"><svg class="ic" viewBox="0 0 448 512" style="width:31.50px;height:36px;fill:#fff;"><path d="M448 360V24c0-13.3-10.7-24-24-24H96C43 0 0 43 0 96v320c0 53 43 96 96 96h328c13.3 0 24-10.7 24-24v-16c0-7.5-3.5-14.3-8.9-18.7-4.2-15.4-4.2-59.3 0-74.700 5.4-4.3 8.9-11.1 8.9-18.600zM128 134c0-3.3 2.7-6 6-6h212c3.3 0 6 2.7 6 6v20c0 3.3-2.7 6-6 6H134c-3.300 0-6-2.7-6-6v-20zm0 64c0-3.3 2.7-6 6-6h212c3.3 0 6 2.7 6 6v20c0 3.3-2.7 6-6 6H134c-3.3 0-6-2.7-6-6v-20zm253.400 250H96c-17.700 0-32-14.300-32-32 0-17.600 14.400-32 32-32h285.400c-1.900 17.100-1.900 46.900 0 64z"/></svg></div><span class="txt" style="left:47.200000000000045px">Termo Garantia</span><span class="badge" style="left:147px;top:47px;width:31px">F7</span></div>
<div class="tile" style="left:260px;top:205px;width:224px;background:#7eb4d3"><div class="icw"><svg class="ic" viewBox="0 0 576 512" style="width:40.50px;height:36px;fill:#fff;"><path d="M280.37 148.26L96 300.11V464a16 16 0 0 0 16 16l112.06-.29a16 16 0 0 0 15.92-16V368a16 16 0 0 1 16-16h64a16 16 0 0 1 16 16v95.64a16 16 0 0 0 16 16.05L464 480a16 16 0 0 0 16-16V300L295.67 148.26a12.19 12.19 0 0 0-15.3 0zM571.6 251.47L488 182.56V44.05a12 12 0 0 0-12-12h-56a12 12 0 0 0-12 12v72.61L318.47 43a48 48 0 0 0-61 0L4.34 251.47a12 12 0 0 0-1.6 16.9l25.5 31A12 12 0 0 0 45.15 301l235.22-193.74a12.19 12.19 0 0 1 15.3 0L530.9 301a12 12 0 0 0 16.9-1.6l25.5-31a12 12 0 0 0-1.7-16.93z"/></svg></div><span class="badge" style="left:145.5px;top:47px;width:31.5px">F8</span></div>
<div class="tile" style="left:494px;top:205px;width:225px;background:#7eb4d3"><div class="icw"><svg class="ic" viewBox="0 0 576 512" style="width:40.50px;height:36px;fill:#fff;"><path d="M280.37 148.26L96 300.11V464a16 16 0 0 0 16 16l112.06-.29a16 16 0 0 0 15.92-16V368a16 16 0 0 1 16-16h64a16 16 0 0 1 16 16v95.64a16 16 0 0 0 16 16.05L464 480a16 16 0 0 0 16-16V300L295.67 148.26a12.19 12.19 0 0 0-15.3 0zM571.6 251.47L488 182.56V44.05a12 12 0 0 0-12-12h-56a12 12 0 0 0-12 12v72.61L318.47 43a48 48 0 0 0-61 0L4.34 251.47a12 12 0 0 0-1.6 16.9l25.5 31A12 12 0 0 0 45.15 301l235.22-193.74a12.19 12.19 0 0 1 15.3 0L530.9 301a12 12 0 0 0 16.9-1.6l25.5-31a12 12 0 0 0-1.7-16.93z"/></svg></div><span class="badge" style="left:144px;top:47px;width:31.5px">F9</span></div>
<div class="tile" style="left:729px;top:205px;width:224px;background:#7eb4d3"><div class="icw"><svg class="ic" viewBox="0 0 512 512" style="width:36.00px;height:36px;fill:#fff;"><path d="M499.99 176h-59.87l-16.64-41.6C406.38 91.63 365.57 64 319.5 64h-127c-46.06 0-86.88 27.63-103.99 70.4L71.87 176H12.01C4.2 176-1.53 183.34.37 190.91l6 24C7.7 220.25 12.5 224 18.01 224h20.07C24.65 235.73 16 252.78 16 272v48c0 16.12 6.16 30.67 16 41.93V416c0 17.67 14.33 32 32 32h32c17.67 0 32-14.33 32-32v-32h256v32c0 17.67 14.33 32 32 32h32c17.67 0 32-14.33 32-32v-54.07c9.84-11.25 16-25.8 16-41.93v-48c0-19.22-8.65-36.27-22.07-48H494c5.51 0 10.31-3.75 11.64-9.09l6-24c1.89-7.57-3.84-14.91-11.65-14.91zm-352.06-17.83c7.29-18.22 24.94-30.17 44.57-30.17h127c19.63 0 37.28 11.95 44.57 30.17L384 208H128l19.93-49.83zM96 319.8c-19.2 0-32-12.76-32-31.9S76.8 256 96 256s48 28.71 48 47.85-28.8 15.95-48 15.95zm320 0c-19.2 0-48 3.19-48-15.95S396.8 256 416 256s32 12.76 32 31.9-12.8 31.9-32 31.9z"/></svg></div><span class="badge" style="left:138px;top:47px;width:38px">F10</span></div>
<div class="tile" style="left:963px;top:205px;width:225px;background:#d99632"><div class="icw"><svg class="ic" viewBox="0 0 576 512" style="width:40.50px;height:36px;fill:#fff;"><path d="M572.694 292.093L500.27 416.248A63.997 63.997 0 0 1 444.989 448H45.025c-18.523 0-30.064-20.093-20.731-36.093l72.424-124.155A64 64 0 0 1 152 256h399.964c18.523 0 30.064 20.093 20.73 36.093zM152 224h328v-48c0-26.51-21.49-48-48-48H272l-64-64H48C21.49 64 0 85.49 0 112v278.046l69.077-118.418C86.214 242.25 117.989 224 152 224z"/></svg></div><span class="badge" style="left:156px;top:47px;width:38px">F11</span></div>
<div class="tile" style="left:1198px;top:205px;width:240px;background:#276175"><div class="icw"><svg class="ic" viewBox="0 0 576 512" style="width:40.50px;height:36px;fill:#fff;"><path d="M572.694 292.093L500.27 416.248A63.997 63.997 0 0 1 444.989 448H45.025c-18.523 0-30.064-20.093-20.731-36.093l72.424-124.155A64 64 0 0 1 152 256h399.964c18.523 0 30.064 20.093 20.73 36.093zM152 224h328v-48c0-26.51-21.49-48-48-48H272l-64-64H48C21.49 64 0 85.49 0 112v278.046l69.077-118.418C86.214 242.25 117.989 224 152 224z"/></svg></div><span class="txt" style="left:29.799999999999955px">ALFA - Contratos</span><span class="badge" style="left:140px;top:47px;width:70px">CTRL+F1</span></div>
<div class="tile" style="left:1448px;top:205px;width:293px;background:#a5d350"><div class="icw"><svg class="ic" viewBox="0 0 576 512" style="width:40.50px;height:36px;fill:#fff;"><path d="M572.694 292.093L500.27 416.248A63.997 63.997 0 0 1 444.989 448H45.025c-18.523 0-30.064-20.093-20.731-36.093l72.424-124.155A64 64 0 0 1 152 256h399.964c18.523 0 30.064 20.093 20.73 36.093zM152 224h328v-48c0-26.51-21.49-48-48-48H272l-64-64H48C21.49 64 0 85.49 0 112v278.046l69.077-118.418C86.214 242.25 117.989 224 152 224z"/></svg></div><span class="txt" style="left:30.40000000000009px">ALFA - Documentos CDR</span><span class="badge" style="left:193.5px;top:47px;width:69.5px">CTRL+F2</span></div>
<div class="tile" style="left:260px;top:290px;width:243px;background:#e95c5f"><div class="icw"><svg class="ic" viewBox="0 0 576 512" style="width:40.50px;height:36px;fill:#fff;"><path d="M572.694 292.093L500.27 416.248A63.997 63.997 0 0 1 444.989 448H45.025c-18.523 0-30.064-20.093-20.731-36.093l72.424-124.155A64 64 0 0 1 152 256h399.964c18.523 0 30.064 20.093 20.73 36.093zM152 224h328v-48c0-26.51-21.49-48-48-48H272l-64-64H48C21.49 64 0 85.49 0 112v278.046l69.077-118.418C86.214 242.25 117.989 224 152 224z"/></svg></div><span class="badge" style="left:143px;top:47px;width:69.5px">CTRL+F3</span></div>
<div class="tile" style="left:513px;top:290px;width:242px;background:#595959"><div class="icw"><svg class="ic" viewBox="0 0 640 512" style="width:45.00px;height:36px;fill:#fff;"><path d="M496 256c8.8 0 16-7.2 16-16s-7.2-16-16-16-16 7.2-16 16 7.2 16 16 16zm-176-80c48.5 0 88-39.5 88-88S368.5 0 320 0s-88 39.500-88 88 39.500 88 88 88zM59.800 364c10.200 15.300 29.300 17.800 42.900 9.800 16.200-9.600 56.200-31.700 105.300-48.600V416h224v-90.700c49.100 16.800 89.100 39 105.300 48.600 13.600 8 32.700 5.300 42.900-9.800l17.800-26.700c8.800-13.200 7.600-34.600-10-45.100-11.900-7.100-29.700-17-51.100-27.400-28.100 46.100-99.400 17.800-87.700-35.100C409.300 217.200 365.100 208 320 208c-57 0-112.900 14.500-160 32.200-.2 40.200-47.600 63.300-79.200 36-11.200 6-21.300 11.600-28.700 16-17.600 10.500-18.800 31.800-10 45.100L59.800 364zM368 344c13.300 0 24 10.700 24 24s-10.700 24-24 24-24-10.700-24-24 10.700-24 24-24zm-96-96c13.300 0 24 10.700 24 24s-10.700 24-24 24-24-10.700-24-24 10.700-24 24-24zm-160 8c8.800 0 16-7.200 16-16s-7.200-16-16-16-16 7.200-16 16 7.200 16 16 16zm512 192H16c-8.800 0-16 7.200-16 16v32c0 8.800 7.200 16 16 16h608c8.800 0 16-7.200 16-16v-32c0-8.800-7.200-16-16-16z"/></svg></div><span class="badge" style="left:141px;top:47px;width:70.5px">CTRL+F4</span></div>
<div class="tile" style="left:765px;top:290px;width:224px;background:#7eb4d3"><div class="icw"><svg class="ic" viewBox="0 0 512 512" style="width:36.00px;height:36px;fill:#fff;"><path d="M511.1 378.8l-26.7-160c-2.6-15.4-15.9-26.7-31.6-26.7H208v-64h96c8.8 0 16-7.2 16-16V16c0-8.8-7.2-16-16-16H48c-8.8 0-16 7.2-16 16v96c0 8.800 7.2 16 16 16h96v64H59.100c-15.600 0-29 11.300-31.600 26.700L.8 378.700c-.6 3.500-.9 7-.9 10.500V480c0 17.700 14.300 32 32 32h448c17.700 0 32-14.300 32-32v-90.700c.1-3.500-.2-7-.8-10.500zM280 248c0-8.800 7.200-16 16-16h16c8.800 0 16 7.200 16 16v16c0 8.800-7.200 16-16 16h-16c-8.800 0-16-7.200-16-16v-16zm-32 64h16c8.800 0 16 7.200 16 16v16c0 8.800-7.200 16-16 16h-16c-8.800 0-16-7.200-16-16v-16c0-8.800 7.200-16 16-16zm-32-80c8.800 0 16 7.200 16 16v16c0 8.800-7.200 16-16 16h-16c-8.800 0-16-7.200-16-16v-16c0-8.800 7.200-16 16-16h16zM80 80V48h192v32H80zm40 200h-16c-8.800 0-16-7.200-16-16v-16c0-8.800 7.200-16 16-16h16c8.800 0 16 7.200 16 16v16c0 8.800-7.200 16-16 16zm16 64v-16c0-8.800 7.200-16 16-16h16c8.800 0 16 7.200 16 16v16c0 8.800-7.200 16-16 16h-16c-8.800 0-16-7.200-16-16zm216 112c0 4.400-3.600 8-8 8H168c-4.400 0-8-3.600-8-8v-16c0-4.400 3.600-8 8-8h176c4.400 0 8 3.600 8 8v16zm24-112c0 8.800-7.200 16-16 16h-16c-8.800 0-16-7.200-16-16v-16c0-8.800 7.200-16 16-16h16c8.800 0 16 7.200 16 16v16zm48-80c0 8.800-7.200 16-16 16h-16c-8.800 0-16-7.200-16-16v-16c0-8.800 7.200-16 16-16h16c8.800 0 16 7.200 16 16v16z"/></svg></div><span class="badge" style="left:123.5px;top:47px;width:69.5px">CTRL+F5</span></div>
<div class="wbox" style="left:240px;top:391px;width:1643px;height:574px"><div class="wtitle"><span class="ici"><svg class="ic" viewBox="0 0 640 512" style="width:15.00px;height:12px;fill:#555;"><path d="M216 288h-48c-8.840 0-16 7.160-16 16v192c0 8.840 7.160 16 16 16h48c8.840 0 16-7.160 16-16V304c0-8.840-7.160-16-16-16zM88 384H40c-8.840 0-16 7.160-16 16v96c0 8.840 7.160 16 16 16h48c8.840 0 16-7.160 16-16v-96c0-8.840-7.160-16-16-16zm256-192h-48c-8.840 0-16 7.160-16 16v288c0 8.840 7.160 16 16 16h48c8.840 0 16-7.160 16-16V208c0-8.840-7.160-16-16-16zm128-96h-48c-8.840 0-16 7.160-16 16v384c0 8.840 7.160 16 16 16h48c8.840 0 16-7.160 16-16V112c0-8.840-7.160-16-16-16zM600 0h-48c-8.840 0-16 7.160-16 16v480c0 8.840 7.160 16 16 16h48c8.840 0 16-7.160 16-16V16c0-8.840-7.160-16-16-16z"/></svg></span><h5>Estatísticas do Sistema</h5></div><div class="stat" style="left:137px;top:72px;width:676.5px"><div class="si"><svg class="ic" viewBox="0 0 640 512" style="width:31.25px;height:25px;fill:#fff;"><path d="M96 224c35.3 0 64-28.7 64-64s-28.7-64-64-64-64 28.7-64 64 28.7 64 64 64zm448 0c35.3 0 64-28.7 64-64s-28.7-64-64-64-64 28.7-64 64 28.7 64 64 64zm32 32h-64c-17.6 0-33.5 7.1-45.1 18.6 40.3 22.1 68.9 62 75.1 109.4h66c17.7 0 32-14.3 32-32v-32c0-35.3-28.7-64-64-64zm-256 0c61.9 0 112-50.1 112-112S381.9 32 320 32 208 82.1 208 144s50.1 112 112 112zm76.8 32h-8.3c-20.8 10-43.9 16-68.5 16s-47.6-6-68.5-16h-8.3C179.6 288 128 339.6 128 403.2V432c0 26.5 21.5 48 48 48h288c26.5 0 48-21.5 48-48v-28.8c0-63.6-51.6-115.2-115.2-115.2zm-223.7-13.4C161.5 263.1 145.6 256 128 256H64c-35.3 0-64 28.7-64 64v32c0 17.7 14.3 32 32 32h65.900c6.3-47.4 34.9-87.3 75.2-109.4z"/></svg></div><strong>3</strong><small>Clientes</small></div><div class="stat" style="left:827px;top:72px;width:677px"><div class="si"><svg class="ic" viewBox="0 0 448 512" style="width:21.88px;height:25px;fill:#fff;"><path d="M352 160v-32C352 57.42 294.579 0 224 0 153.42 0 96 57.42 96 128v32H0v272c0 44.183 35.817 80 80 80h288c44.183 0 80-35.817 80-80V160h-96zm-192-32c0-35.29 28.71-64 64-64s64 28.71 64 64v32H160v-32zm160 120c-13.255 0-24-10.745-24-24s10.745-24 24-24 24 10.745 24 24-10.745 24-24 24zm-192 0c-13.255 0-24-10.745-24-24s10.745-24 24-24 24 10.745 24 24-10.745 24-24 24z"/></svg></div><strong>0</strong><small>Produtos</small></div><div class="stat" style="left:137px;top:169px;width:676.5px"><div class="si"><svg class="ic" viewBox="0 0 640 512" style="width:31.25px;height:25px;fill:#fff;"><path d="M496 256c8.8 0 16-7.2 16-16s-7.2-16-16-16-16 7.2-16 16 7.2 16 16 16zm-176-80c48.5 0 88-39.5 88-88S368.5 0 320 0s-88 39.500-88 88 39.500 88 88 88zM59.800 364c10.200 15.300 29.300 17.800 42.900 9.800 16.200-9.600 56.200-31.700 105.300-48.600V416h224v-90.700c49.100 16.800 89.100 39 105.300 48.600 13.600 8 32.700 5.300 42.900-9.800l17.800-26.700c8.800-13.200 7.600-34.600-10-45.100-11.900-7.100-29.700-17-51.100-27.400-28.100 46.100-99.400 17.800-87.700-35.100C409.300 217.200 365.100 208 320 208c-57 0-112.900 14.500-160 32.200-.2 40.200-47.600 63.300-79.200 36-11.200 6-21.300 11.600-28.700 16-17.600 10.500-18.800 31.800-10 45.100L59.800 364zM368 344c13.300 0 24 10.700 24 24s-10.700 24-24 24-24-10.700-24-24 10.700-24 24-24zm-96-96c13.300 0 24 10.700 24 24s-10.700 24-24 24-24-10.700-24-24 10.700-24 24-24zm-160 8c8.800 0 16-7.200 16-16s-7.200-16-16-16-16 7.200-16 16 7.200 16 16 16zm512 192H16c-8.800 0-16 7.200-16 16v32c0 8.800 7.200 16 16 16h608c8.800 0 16-7.200 16-16v-32c0-8.800-7.200-16-16-16z"/></svg></div><strong>0</strong><small>Ordens de Serviço</small></div><div class="stat" style="left:827px;top:169px;width:677px"><div class="si"><svg class="ic" viewBox="0 0 512 512" style="width:25.00px;height:25px;fill:#fff;"><path d="M507.73 109.1c-2.24-9.03-13.54-12.09-20.12-5.51l-74.36 74.36-67.88-11.31-11.31-67.88 74.36-74.36c6.62-6.62 3.43-17.9-5.66-20.16-47.38-11.74-99.55.91-136.58 37.93-39.64 39.64-50.55 97.1-34.05 147.2L18.74 402.76c-24.99 24.99-24.99 65.51 0 90.5 24.99 24.99 65.51 24.99 90.5 0l213.21-213.21c50.12 16.71 107.47 5.68 147.37-34.22 37.07-37.07 49.7-89.32 37.91-136.73zM64 472c-13.25 0-24-10.75-24-24 0-13.26 10.75-24 24-24s24 10.74 24 24c0 13.25-10.75 24-24 24z"/></svg></div><strong>3</strong><small>Serviços</small></div><div class="stat" style="left:137px;top:266px;width:676.5px"><div class="si"><svg class="ic" viewBox="0 0 576 512" style="width:28.12px;height:25px;fill:#fff;"><path d="M280.37 148.26L96 300.11V464a16 16 0 0 0 16 16l112.06-.29a16 16 0 0 0 15.92-16V368a16 16 0 0 1 16-16h64a16 16 0 0 1 16 16v95.64a16 16 0 0 0 16 16.05L464 480a16 16 0 0 0 16-16V300L295.67 148.26a12.19 12.19 0 0 0-15.3 0zM571.6 251.47L488 182.56V44.05a12 12 0 0 0-12-12h-56a12 12 0 0 0-12 12v72.61L318.47 43a48 48 0 0 0-61 0L4.34 251.47a12 12 0 0 0-1.6 16.9l25.5 31A12 12 0 0 0 45.15 301l235.22-193.74a12.19 12.19 0 0 1 15.3 0L530.9 301a12 12 0 0 0 16.9-1.6l25.5-31a12 12 0 0 0-1.7-16.93z"/></svg></div><strong>1003</strong></div><div class="stat" style="left:827px;top:266px;width:677px"><div class="si"><svg class="ic" viewBox="0 0 512 512" style="width:25.00px;height:25px;fill:#fff;"><path d="M499.99 176h-59.87l-16.64-41.6C406.38 91.63 365.57 64 319.5 64h-127c-46.06 0-86.88 27.63-103.99 70.4L71.87 176H12.01C4.2 176-1.53 183.34.37 190.91l6 24C7.7 220.25 12.5 224 18.01 224h20.07C24.65 235.73 16 252.78 16 272v48c0 16.12 6.16 30.67 16 41.93V416c0 17.67 14.33 32 32 32h32c17.67 0 32-14.33 32-32v-32h256v32c0 17.67 14.33 32 32 32h32c17.67 0 32-14.33 32-32v-54.07c9.84-11.25 16-25.8 16-41.93v-48c0-19.22-8.65-36.27-22.07-48H494c5.51 0 10.31-3.75 11.64-9.09l6-24c1.89-7.57-3.84-14.91-11.65-14.91zm-352.06-17.83c7.29-18.22 24.94-30.17 44.57-30.17h127c19.63 0 37.28 11.95 44.57 30.17L384 208H128l19.93-49.83zM96 319.8c-19.2 0-32-12.76-32-31.9S76.8 256 96 256s48 28.71 48 47.85-28.8 15.95-48 15.95zm320 0c-19.2 0-48 3.19-48-15.95S396.8 256 416 256s32 12.76 32 31.9-12.8 31.9-32 31.9z"/></svg></div><strong>3427</strong></div><div class="stat" style="left:137px;top:363px;width:676.5px"><div class="si"><svg class="ic" viewBox="0 0 576 512" style="width:28.12px;height:25px;fill:#fff;"><path d="M280.37 148.26L96 300.11V464a16 16 0 0 0 16 16l112.06-.29a16 16 0 0 0 15.92-16V368a16 16 0 0 1 16-16h64a16 16 0 0 1 16 16v95.64a16 16 0 0 0 16 16.05L464 480a16 16 0 0 0 16-16V300L295.67 148.26a12.19 12.19 0 0 0-15.3 0zM571.6 251.47L488 182.56V44.05a12 12 0 0 0-12-12h-56a12 12 0 0 0-12 12v72.61L318.47 43a48 48 0 0 0-61 0L4.34 251.47a12 12 0 0 0-1.6 16.9l25.5 31A12 12 0 0 0 45.15 301l235.22-193.74a12.19 12.19 0 0 1 15.3 0L530.9 301a12 12 0 0 0 16.9-1.6l25.5-31a12 12 0 0 0-1.7-16.93z"/></svg></div><strong>105836</strong></div><div class="stat" style="left:827px;top:363px;width:677px"><div class="si"><svg class="ic" viewBox="0 0 448 512" style="width:21.88px;height:25px;fill:#fff;"><path d="M128 184c0-30.879 25.122-56 56-56h136V56c0-13.255-10.745-24-24-24h-80.61C204.306 12.89 183.637 0 160 0s-44.306 12.89-55.39 32H24C10.745 32 0 42.745 0 56v336c0 13.255 10.745 24 24 24h104V184zm32-144c13.255 0 24 10.745 24 24s-10.745 24-24 24-24-10.745-24-24 10.745-24 24-24zm184 248h104v200c0 13.255-10.745 24-24 24H184c-13.255 0-24-10.745-24-24V184c0-13.255 10.745-24 24-24h136v104c0 13.2 10.8 24 24 24zm104-38.059V256h-96v-96h6.059a24 24 0 0 1 16.97 7.029l65.941 65.941a24.002 24.002 0 0 1 7.03 16.971z"/></svg></div><strong>2997</strong></div><div class="stat" style="left:137px;top:460px;width:676.5px"><div class="si"><svg class="ic" viewBox="0 0 448 512" style="width:21.88px;height:25px;fill:#fff;"><path d="M128 184c0-30.879 25.122-56 56-56h136V56c0-13.255-10.745-24-24-24h-80.61C204.306 12.89 183.637 0 160 0s-44.306 12.89-55.39 32H24C10.745 32 0 42.745 0 56v336c0 13.255 10.745 24 24 24h104V184zm32-144c13.255 0 24 10.745 24 24s-10.745 24-24 24-24-10.745-24-24 10.745-24 24-24zm184 248h104v200c0 13.255-10.745 24-24 24H184c-13.255 0-24-10.745-24-24V184c0-13.255 10.745-24 24-24h136v104c0 13.2 10.8 24 24 24zm104-38.059V256h-96v-96h6.059a24 24 0 0 1 16.97 7.029l65.941 65.941a24.002 24.002 0 0 1 7.03 16.971z"/></svg></div><small>Documentos: ( 35015 ) - Contratos DCR: ( 37680 ) - Propostas: ( 165790 )</small></div><div class="stat" style="left:827px;top:460px;width:677px"><div class="si"><svg class="ic" viewBox="0 0 448 512" style="width:21.88px;height:25px;fill:#fff;"><path d="M128 184c0-30.879 25.122-56 56-56h136V56c0-13.255-10.745-24-24-24h-80.61C204.306 12.89 183.637 0 160 0s-44.306 12.89-55.39 32H24C10.745 32 0 42.745 0 56v336c0 13.255 10.745 24 24 24h104V184zm32-144c13.255 0 24 10.745 24 24s-10.745 24-24 24-24-10.745-24-24 10.745-24 24-24zm184 248h104v200c0 13.255-10.745 24-24 24H184c-13.255 0-24-10.745-24-24V184c0-13.255 10.745-24 24-24h136v104c0 13.2 10.8 24 24 24zm104-38.059V256h-96v-96h6.059a24 24 0 0 1 16.97 7.029l65.941 65.941a24.002 24.002 0 0 1 7.03 16.971z"/></svg></div><small>Relatórios: ( 13736 ) - AMCF: ( 1369 )</small></div><div style="position:absolute;left:676.5px;top:539px;width:1.5px;height:1.5px;background:#222"></div></div>
<div class="btn" style="left:239px;top:986px;width:239px;height:30px;background:#5bb75b;border:1px solid #51a351;color:#fff;font-size:14px;line-height:28px;text-shadow:0 -1px 0 rgba(0,0,0,.25)"><svg class="ic" viewBox="0 0 448 512" style="width:12.25px;height:14px;fill:#fff;"><path d="M416 208H272V64c0-17.670-14.330-32-32-32h-32c-17.670 0-32 14.330-32 32v144H32c-17.670 0-32 14.330-32 32v32c0 17.670 14.330 32 32 32h144v144c0 17.670 14.330 32 32 32h32c17.670 0 32-14.330 32-32V304h144c17.670 0 32-14.330 32-32v-32c0-17.670-14.330-32-32-32z"/></svg><span style="margin-left:2.5px">Adicionar Arquivo</span></div>
<div class="inp" style="left:488px;width:153.5px">CPF/CNPJ</div>
<div class="inp" style="left:653px;width:213.5px">Proponente</div>
<div class="inp" style="left:878px;width:153.5px">Caixa</div>
<div class="btn" style="left:1075px;top:986px;width:39.5px;height:30px;background:#f5f5f5;border:1px solid #dadada;border-bottom-color:#b9b9b9"><svg class="ic" viewBox="0 0 512 512" style="width:14.00px;height:14px;fill:#222;"><path d="M505 442.700L405.300 343c-4.500-4.500-10.600-7-17-7H372c27.600-35.300 44-79.700 44-128C416 93.100 322.900 0 208 0S0 93.100 0 208s93.100 208 208 208c48.300 0 92.700-16.400 128-44v16.300c0 6.400 2.500 12.500 7 17l99.700 99.700c9.400 9.400 24.600 9.400 33.900 0l28.300-28.300c9.400-9.400 9.400-24.600.1-34zM208 336c-70.700 0-128-57.200-128-128 0-70.700 57.200-128 128-128 70.700 0 128 57.200 128 128 0 70.700-57.200 128-128 128z"/></svg></div>
<div class="btn" style="left:1118px;top:986px;width:40px;height:29.5px;background:#d99632;border:1px solid #cf8e2c;border-bottom-color:#b98027"><svg class="ic" viewBox="0 0 512 512" style="width:14.00px;height:14px;fill:#222;"><path d="M184.561 261.903c3.232 13.997-12.123 24.635-24.068 17.168l-40.736-25.455-50.867 81.402C55.606 356.273 70.96 384 96.012 384H148c6.627 0 12 5.373 12 12v40c0 6.627-5.373 12-12 12H96.115c-75.334 0-121.302-83.048-81.408-146.880l50.822-81.388-40.725-25.448c-12.081-7.547-8.966-25.961 4.879-29.158l110.237-25.450c8.611-1.988 17.201 3.381 19.189 11.990l25.452 110.237zm98.561-182.915l41.289 66.076-40.740 25.457c-12.051 7.528-9 25.953 4.879 29.158l110.237 25.450c8.672 1.999 17.215-3.438 19.189-11.990l25.450-110.237c3.197-13.844-11.990-24.719-24.068-17.168l-40.687 25.424-41.263-66.082c-37.521-60.033-125.209-60.171-162.816 0l-17.963 28.766c-3.510 5.620-1.800 13.021 3.820 16.533l33.919 21.195c5.620 3.512 13.024 1.803 16.536-3.817l17.961-28.743c12.712-20.341 41.973-19.676 54.257-.022zM497.288 301.120l-27.515-44.065c-3.511-5.623-10.916-7.334-16.538-3.821l-33.861 21.159c-5.620 3.512-7.330 10.915-3.818 16.536l27.564 44.112c13.257 21.211-2.057 48.960-27.136 48.960H320V336.020c0-14.213-17.242-21.383-27.313-11.313l-80 79.981c-6.249 6.248-6.249 16.379 0 22.627l80 79.989C302.689 517.308 320 510.300 320 495.989V448h95.880c75.274 0 121.335-82.997 81.408-146.880z"/></svg></div>
<div class="wbox" style="left:239px;top:1062px;width:1643px;height:577px;overflow:hidden"><div class="wtitle"><span class="ici" style="width:36px"><svg class="ic" viewBox="0 0 576 512" style="width:14.06px;height:12.5px;fill:#555;"><path d="M576 304v96c0 26.51-21.49 48-48 48H48c-26.51 0-48-21.49-48-48v-96c0-26.51 21.49-48 48-48h480c26.51 0 48 21.49 48 48zm-48-80a79.557 79.557 0 0 1 30.777 6.165L462.25 85.374A48.003 48.003 0 0 0 422.311 64H153.689a48 48 0 0 0-39.938 21.374L17.223 230.165A79.557 79.557 0 0 1 48 224h480zm-48 96c-17.673 0-32 14.327-32 32s14.327 32 32 32 32-14.327 32-32-14.327-32-32-32zm-96 0c-17.673 0-32 14.327-32 32s14.327 32 32 32 32-14.327 32-32-14.327-32-32-32z"/></svg></span><h5 style="left:47.5px">Propostas - 165790</h5></div><div style="position:absolute;left:0;top:37px;width:1641px;height:28px;background:#efefef;border-bottom:1px solid #ddd"></div><div style="position:absolute;left:551px;top:37px;width:120px;height:28px;line-height:29px;text-align:center;font-size:10px;font-weight:bold;color:#666">Prponente</div><div style="position:absolute;left:992.7px;top:37px;width:120px;height:28px;line-height:29px;text-align:center;font-size:10px;font-weight:bold;color:#666">Caixa</div><div style="position:absolute;left:1368.5px;top:37px;width:120px;height:28px;line-height:29px;text-align:center;font-size:10px;font-weight:bold;color:#666">Ações</div><div class="bar" style="left:153.9px;top:42.7px;width:59.1px;height:14.1px"></div><div class="chk" style="left:11px;top:47.5px"></div><div style="position:absolute;left:0;top:65px;width:1641px;height:47px;border-bottom:1px solid #ddd;background:transparent"></div><div class="chk" style="left:11px;top:79px"></div><div class="bar" style="left:39.9px;top:75.2px;width:90.0px;height:12.7px"></div><div class="bar" style="left:339.0px;top:74.9px;width:86.9px;height:15.0px"></div><div class="bar" style="left:898.0px;top:76.0px;width:79.8px;height:11.1px"></div><div class="btn" style="left:1225px;top:73px;width:39.5px;height:30px;background:#f5f5f5;border:1px solid #d6d6d6;border-bottom-color:#c2c2c2;line-height:28px"><svg class="ic" viewBox="0 0 512 512" style="width:14.00px;height:14px;fill:#222;"><path d="M216 0h80c13.300 0 24 10.700 24 24v168h87.700c17.800 0 26.700 21.500 14.100 34.100L269.700 378.300c-7.500 7.500-19.800 7.500-27.300 0L90.100 226.100c-12.600-12.600-3.700-34.100 14.100-34.100H192V24c0-13.300 10.700-24 24-24zm296 376v112c0 13.300-10.700 24-24 24H24c-13.300 0-24-10.700-24-24V376c0-13.300 10.700-24 24-24h146.700l49 49c20.100 20.100 52.500 20.100 72.600 0l49-49H488c13.300 0 24 10.700 24 24zm-124 88c0-11-9-20-20-20s-20 9-20 20 9 20 20 20 20-9 20-20zm64 0c0-11-9-20-20-20s-20 9-20 20 9 20 20 20 20-9 20-20z"/></svg></div><div class="btn" style="left:1272px;top:73px;width:42px;height:30px;background:#2fa58a;border:1px solid #2a957c;line-height:28px"><svg class="ic" viewBox="0 0 576 512" style="width:15.75px;height:14px;fill:#fff;"><path d="M402.6 83.2l90.200 90.200c3.800 3.800 3.800 10 0 13.800L274.400 405.600l-92.800 10.300c-12.400 1.400-22.900-9.100-21.500-21.500l10.300-92.800L388.800 83.200c3.800-3.800 10-3.800 13.800 0zm162-22.900l-48.800-48.800c-15.200-15.200-39.900-15.200-55.200 0l-35.400 35.400c-3.800 3.800-3.800 10 0 13.800l90.200 90.200c3.800 3.800 10 3.800 13.800 0l35.400-35.400c15.200-15.300 15.200-40 0-55.200zM384 346.200V448H64V128h229.800c3.200 0 6.200-1.300 8.500-3.500l40-40c7.600-7.600 2.200-20.500-8.500-20.500H48C21.500 64 0 85.500 0 112v352c0 26.500 21.500 48 48 48h352c26.500 0 48-21.500 48-48V306.200c0-10.700-12.900-16-20.500-8.500l-40 40c-2.200 2.300-3.500 5.300-3.500 8.500z"/></svg></div><div class="btn" style="left:1321px;top:73px;width:39px;height:30px;background:#d84a49;border:1px solid #c43f3e;line-height:28px"><svg class="ic" viewBox="0 0 448 512" style="width:12.25px;height:14px;fill:#fff;"><path d="M32 464a48 48 0 0 0 48 48h288a48 48 0 0 0 48-48V128H32zm272-256a16 16 0 0 1 32 0v224a16 16 0 0 1-32 0zm-96 0a16 16 0 0 1 32 0v224a16 16 0 0 1-32 0zm-96 0a16 16 0 0 1 32 0v224a16 16 0 0 1-32 0zM432 32H312l-9.400-18.700A24 24 0 0 0 281.100 0H166.800a23.720 23.720 0 0 0-21.400 13.300L136 32H16A16 16 0 0 0 0 48v32a16 16 0 0 0 16 16h416a16 16 0 0 0 16-16V48a16 16 0 0 0-16-16z"/></svg></div><div style="position:absolute;left:0;top:112px;width:1641px;height:47px;border-bottom:1px solid #ddd;background:transparent"></div><div class="chk" style="left:11px;top:126px"></div><div class="bar" style="left:37.9px;top:121.9px;width:121.1px;height:13.0px"></div><div class="bar" style="left:339.0px;top:123.0px;width:131.0px;height:15.8px"></div><div class="bar" style="left:894.9px;top:121.0px;width:87.1px;height:13.0px"></div><div class="btn" style="left:1225px;top:120px;width:39.5px;height:30px;background:#f5f5f5;border:1px solid #d6d6d6;border-bottom-color:#c2c2c2;line-height:28px"><svg class="ic" viewBox="0 0 512 512" style="width:14.00px;height:14px;fill:#222;"><path d="M216 0h80c13.300 0 24 10.700 24 24v168h87.700c17.800 0 26.700 21.500 14.100 34.100L269.700 378.300c-7.500 7.500-19.800 7.500-27.300 0L90.100 226.100c-12.600-12.600-3.700-34.100 14.100-34.100H192V24c0-13.300 10.700-24 24-24zm296 376v112c0 13.300-10.700 24-24 24H24c-13.300 0-24-10.700-24-24V376c0-13.300 10.700-24 24-24h146.700l49 49c20.100 20.100 52.500 20.100 72.600 0l49-49H488c13.300 0 24 10.700 24 24zm-124 88c0-11-9-20-20-20s-20 9-20 20 9 20 20 20 20-9 20-20zm64 0c0-11-9-20-20-20s-20 9-20 20 9 20 20 20 20-9 20-20z"/></svg></div><div class="btn" style="left:1272px;top:120px;width:42px;height:30px;background:#2fa58a;border:1px solid #2a957c;line-height:28px"><svg class="ic" viewBox="0 0 576 512" style="width:15.75px;height:14px;fill:#fff;"><path d="M402.6 83.2l90.200 90.200c3.800 3.800 3.800 10 0 13.800L274.400 405.600l-92.800 10.300c-12.400 1.400-22.900-9.100-21.500-21.500l10.300-92.800L388.800 83.200c3.800-3.800 10-3.800 13.800 0zm162-22.900l-48.800-48.800c-15.200-15.200-39.900-15.200-55.200 0l-35.400 35.400c-3.800 3.800-3.800 10 0 13.800l90.200 90.200c3.800 3.800 10 3.800 13.800 0l35.400-35.400c15.200-15.300 15.200-40 0-55.200zM384 346.200V448H64V128h229.800c3.200 0 6.200-1.300 8.500-3.500l40-40c7.600-7.600 2.200-20.500-8.500-20.500H48C21.500 64 0 85.500 0 112v352c0 26.500 21.500 48 48 48h352c26.500 0 48-21.500 48-48V306.200c0-10.700-12.900-16-20.500-8.500l-40 40c-2.200 2.300-3.500 5.300-3.500 8.500z"/></svg></div><div class="btn" style="left:1321px;top:120px;width:39px;height:30px;background:#d84a49;border:1px solid #c43f3e;line-height:28px"><svg class="ic" viewBox="0 0 448 512" style="width:12.25px;height:14px;fill:#fff;"><path d="M32 464a48 48 0 0 0 48 48h288a48 48 0 0 0 48-48V128H32zm272-256a16 16 0 0 1 32 0v224a16 16 0 0 1-32 0zm-96 0a16 16 0 0 1 32 0v224a16 16 0 0 1-32 0zm-96 0a16 16 0 0 1 32 0v224a16 16 0 0 1-32 0zM432 32H312l-9.400-18.700A24 24 0 0 0 281.100 0H166.800a23.720 23.720 0 0 0-21.400 13.300L136 32H16A16 16 0 0 0 0 48v32a16 16 0 0 0 16 16h416a16 16 0 0 0 16-16V48a16 16 0 0 0-16-16z"/></svg></div><div style="position:absolute;left:0;top:159px;width:1641px;height:47px;border-bottom:1px solid #ddd;background:#f5f5f5"></div><div class="chk" style="left:11px;top:173px"></div><div class="bar" style="left:39.0px;top:167.1px;width:94.0px;height:15.9px"></div><div class="bar" style="left:339.0px;top:171.1px;width:175.2px;height:14.7px"></div><div class="bar" style="left:894.9px;top:170.0px;width:97.9px;height:12.1px"></div><div class="btn" style="left:1225px;top:167px;width:39.5px;height:30px;background:#f5f5f5;border:1px solid #d6d6d6;border-bottom-color:#c2c2c2;line-height:28px"><svg class="ic" viewBox="0 0 512 512" style="width:14.00px;height:14px;fill:#222;"><path d="M216 0h80c13.300 0 24 10.700 24 24v168h87.700c17.800 0 26.700 21.500 14.100 34.100L269.700 378.300c-7.500 7.500-19.800 7.500-27.300 0L90.100 226.100c-12.600-12.600-3.700-34.100 14.100-34.100H192V24c0-13.300 10.700-24 24-24zm296 376v112c0 13.300-10.700 24-24 24H24c-13.300 0-24-10.700-24-24V376c0-13.300 10.700-24 24-24h146.700l49 49c20.100 20.100 52.500 20.100 72.600 0l49-49H488c13.300 0 24 10.700 24 24zm-124 88c0-11-9-20-20-20s-20 9-20 20 9 20 20 20 20-9 20-20zm64 0c0-11-9-20-20-20s-20 9-20 20 9 20 20 20 20-9 20-20z"/></svg></div><div class="btn" style="left:1272px;top:167px;width:42px;height:30px;background:#2fa58a;border:1px solid #2a957c;line-height:28px"><svg class="ic" viewBox="0 0 576 512" style="width:15.75px;height:14px;fill:#fff;"><path d="M402.6 83.2l90.200 90.200c3.800 3.800 3.800 10 0 13.800L274.400 405.600l-92.800 10.300c-12.400 1.400-22.900-9.100-21.500-21.500l10.300-92.800L388.800 83.200c3.800-3.800 10-3.800 13.800 0zm162-22.900l-48.800-48.800c-15.200-15.200-39.900-15.200-55.200 0l-35.400 35.400c-3.800 3.800-3.800 10 0 13.800l90.200 90.200c3.800 3.800 10 3.800 13.800 0l35.400-35.400c15.200-15.300 15.200-40 0-55.200zM384 346.200V448H64V128h229.800c3.200 0 6.200-1.300 8.500-3.500l40-40c7.600-7.600 2.200-20.500-8.500-20.500H48C21.500 64 0 85.500 0 112v352c0 26.500 21.500 48 48 48h352c26.500 0 48-21.500 48-48V306.200c0-10.700-12.900-16-20.500-8.500l-40 40c-2.200 2.300-3.500 5.300-3.500 8.500z"/></svg></div><div class="btn" style="left:1321px;top:167px;width:39px;height:30px;background:#d84a49;border:1px solid #c43f3e;line-height:28px"><svg class="ic" viewBox="0 0 448 512" style="width:12.25px;height:14px;fill:#fff;"><path d="M32 464a48 48 0 0 0 48 48h288a48 48 0 0 0 48-48V128H32zm272-256a16 16 0 0 1 32 0v224a16 16 0 0 1-32 0zm-96 0a16 16 0 0 1 32 0v224a16 16 0 0 1-32 0zm-96 0a16 16 0 0 1 32 0v224a16 16 0 0 1-32 0zM432 32H312l-9.400-18.700A24 24 0 0 0 281.100 0H166.800a23.720 23.720 0 0 0-21.400 13.300L136 32H16A16 16 0 0 0 0 48v32a16 16 0 0 0 16 16h416a16 16 0 0 0 16-16V48a16 16 0 0 0-16-16z"/></svg></div><div style="position:absolute;left:0;top:206px;width:1641px;height:47px;border-bottom:1px solid #ddd;background:transparent"></div><div class="chk" style="left:11px;top:220px"></div><div class="bar" style="left:39.9px;top:216.1px;width:91.9px;height:12.7px"></div><div class="bar" style="left:341.0px;top:216.1px;width:131.0px;height:13.8px"></div><div class="bar" style="left:896.0px;top:216.1px;width:107.8px;height:13.8px"></div><div class="btn" style="left:1225px;top:214px;width:39.5px;height:30px;background:#f5f5f5;border:1px solid #d6d6d6;border-bottom-color:#c2c2c2;line-height:28px"><svg class="ic" viewBox="0 0 512 512" style="width:14.00px;height:14px;fill:#222;"><path d="M216 0h80c13.300 0 24 10.700 24 24v168h87.700c17.800 0 26.700 21.500 14.100 34.100L269.700 378.300c-7.500 7.500-19.800 7.500-27.300 0L90.100 226.100c-12.600-12.600-3.700-34.100 14.100-34.100H192V24c0-13.300 10.700-24 24-24zm296 376v112c0 13.300-10.700 24-24 24H24c-13.300 0-24-10.700-24-24V376c0-13.300 10.700-24 24-24h146.700l49 49c20.100 20.100 52.500 20.100 72.600 0l49-49H488c13.300 0 24 10.700 24 24zm-124 88c0-11-9-20-20-20s-20 9-20 20 9 20 20 20 20-9 20-20zm64 0c0-11-9-20-20-20s-20 9-20 20 9 20 20 20 20-9 20-20z"/></svg></div><div class="btn" style="left:1272px;top:214px;width:42px;height:30px;background:#2fa58a;border:1px solid #2a957c;line-height:28px"><svg class="ic" viewBox="0 0 576 512" style="width:15.75px;height:14px;fill:#fff;"><path d="M402.6 83.2l90.200 90.200c3.800 3.800 3.800 10 0 13.800L274.400 405.600l-92.800 10.300c-12.400 1.400-22.900-9.100-21.500-21.500l10.300-92.800L388.800 83.200c3.800-3.800 10-3.800 13.800 0zm162-22.900l-48.800-48.800c-15.200-15.200-39.900-15.200-55.200 0l-35.400 35.400c-3.800 3.800-3.800 10 0 13.800l90.200 90.200c3.800 3.800 10 3.800 13.800 0l35.400-35.400c15.200-15.300 15.200-40 0-55.200zM384 346.200V448H64V128h229.800c3.200 0 6.200-1.300 8.500-3.500l40-40c7.600-7.600 2.200-20.500-8.500-20.500H48C21.500 64 0 85.500 0 112v352c0 26.500 21.500 48 48 48h352c26.500 0 48-21.500 48-48V306.200c0-10.700-12.900-16-20.500-8.500l-40 40c-2.200 2.300-3.500 5.300-3.500 8.500z"/></svg></div><div class="btn" style="left:1321px;top:214px;width:39px;height:30px;background:#d84a49;border:1px solid #c43f3e;line-height:28px"><svg class="ic" viewBox="0 0 448 512" style="width:12.25px;height:14px;fill:#fff;"><path d="M32 464a48 48 0 0 0 48 48h288a48 48 0 0 0 48-48V128H32zm272-256a16 16 0 0 1 32 0v224a16 16 0 0 1-32 0zm-96 0a16 16 0 0 1 32 0v224a16 16 0 0 1-32 0zm-96 0a16 16 0 0 1 32 0v224a16 16 0 0 1-32 0zM432 32H312l-9.400-18.700A24 24 0 0 0 281.100 0H166.800a23.720 23.720 0 0 0-21.400 13.300L136 32H16A16 16 0 0 0 0 48v32a16 16 0 0 0 16 16h416a16 16 0 0 0 16-16V48a16 16 0 0 0-16-16z"/></svg></div><div style="position:absolute;left:0;top:253px;width:1641px;height:47px;border-bottom:1px solid #ddd;background:transparent"></div><div class="chk" style="left:11px;top:267px"></div><div class="bar" style="left:39.9px;top:263.9px;width:95.1px;height:14.1px"></div><div class="bar" style="left:337.9px;top:263.0px;width:99.9px;height:15.9px"></div><div class="bar" style="left:894.9px;top:263.0px;width:89.1px;height:13.9px"></div><div class="btn" style="left:1225px;top:261px;width:39.5px;height:30px;background:#f5f5f5;border:1px solid #d6d6d6;border-bottom-color:#c2c2c2;line-height:28px"><svg class="ic" viewBox="0 0 512 512" style="width:14.00px;height:14px;fill:#222;"><path d="M216 0h80c13.300 0 24 10.700 24 24v168h87.700c17.800 0 26.700 21.500 14.100 34.100L269.700 378.300c-7.500 7.500-19.800 7.500-27.300 0L90.100 226.100c-12.600-12.600-3.700-34.100 14.100-34.100H192V24c0-13.300 10.700-24 24-24zm296 376v112c0 13.300-10.700 24-24 24H24c-13.300 0-24-10.700-24-24V376c0-13.300 10.700-24 24-24h146.700l49 49c20.100 20.100 52.500 20.100 72.600 0l49-49H488c13.300 0 24 10.700 24 24zm-124 88c0-11-9-20-20-20s-20 9-20 20 9 20 20 20 20-9 20-20zm64 0c0-11-9-20-20-20s-20 9-20 20 9 20 20 20 20-9 20-20z"/></svg></div><div class="btn" style="left:1272px;top:261px;width:42px;height:30px;background:#2fa58a;border:1px solid #2a957c;line-height:28px"><svg class="ic" viewBox="0 0 576 512" style="width:15.75px;height:14px;fill:#fff;"><path d="M402.6 83.2l90.200 90.200c3.800 3.800 3.800 10 0 13.800L274.400 405.600l-92.800 10.300c-12.400 1.400-22.900-9.100-21.500-21.500l10.300-92.800L388.800 83.200c3.800-3.800 10-3.800 13.800 0zm162-22.900l-48.800-48.800c-15.200-15.200-39.900-15.200-55.200 0l-35.400 35.400c-3.800 3.800-3.800 10 0 13.800l90.200 90.200c3.800 3.800 10 3.800 13.800 0l35.400-35.400c15.200-15.300 15.200-40 0-55.200zM384 346.200V448H64V128h229.800c3.200 0 6.200-1.300 8.500-3.500l40-40c7.600-7.600 2.200-20.500-8.500-20.500H48C21.500 64 0 85.500 0 112v352c0 26.500 21.500 48 48 48h352c26.500 0 48-21.500 48-48V306.200c0-10.700-12.900-16-20.500-8.500l-40 40c-2.200 2.300-3.500 5.300-3.500 8.500z"/></svg></div><div class="btn" style="left:1321px;top:261px;width:39px;height:30px;background:#d84a49;border:1px solid #c43f3e;line-height:28px"><svg class="ic" viewBox="0 0 448 512" style="width:12.25px;height:14px;fill:#fff;"><path d="M32 464a48 48 0 0 0 48 48h288a48 48 0 0 0 48-48V128H32zm272-256a16 16 0 0 1 32 0v224a16 16 0 0 1-32 0zm-96 0a16 16 0 0 1 32 0v224a16 16 0 0 1-32 0zm-96 0a16 16 0 0 1 32 0v224a16 16 0 0 1-32 0zM432 32H312l-9.400-18.700A24 24 0 0 0 281.100 0H166.800a23.720 23.720 0 0 0-21.400 13.300L136 32H16A16 16 0 0 0 0 48v32a16 16 0 0 0 16 16h416a16 16 0 0 0 16-16V48a16 16 0 0 0-16-16z"/></svg></div><div style="position:absolute;left:0;top:300px;width:1641px;height:47px;border-bottom:1px solid #ddd;background:transparent"></div><div class="chk" style="left:11px;top:314px"></div><div class="bar" style="left:41.0px;top:310.8px;width:99.9px;height:11.1px"></div><div class="bar" style="left:339.0px;top:310.8px;width:144.9px;height:16.2px"></div><div class="bar" style="left:894.9px;top:309.1px;width:87.1px;height:14.7px"></div><div class="btn" style="left:1225px;top:308px;width:39.5px;height:30px;background:#f5f5f5;border:1px solid #d6d6d6;border-bottom-color:#c2c2c2;line-height:28px"><svg class="ic" viewBox="0 0 512 512" style="width:14.00px;height:14px;fill:#222;"><path d="M216 0h80c13.300 0 24 10.700 24 24v168h87.700c17.800 0 26.700 21.500 14.100 34.100L269.700 378.300c-7.500 7.500-19.800 7.500-27.300 0L90.100 226.100c-12.600-12.600-3.700-34.100 14.100-34.100H192V24c0-13.300 10.700-24 24-24zm296 376v112c0 13.300-10.700 24-24 24H24c-13.300 0-24-10.700-24-24V376c0-13.300 10.700-24 24-24h146.700l49 49c20.100 20.100 52.500 20.100 72.600 0l49-49H488c13.300 0 24 10.700 24 24zm-124 88c0-11-9-20-20-20s-20 9-20 20 9 20 20 20 20-9 20-20zm64 0c0-11-9-20-20-20s-20 9-20 20 9 20 20 20 20-9 20-20z"/></svg></div><div class="btn" style="left:1272px;top:308px;width:42px;height:30px;background:#2fa58a;border:1px solid #2a957c;line-height:28px"><svg class="ic" viewBox="0 0 576 512" style="width:15.75px;height:14px;fill:#fff;"><path d="M402.6 83.2l90.200 90.200c3.800 3.800 3.800 10 0 13.800L274.400 405.600l-92.800 10.300c-12.400 1.400-22.900-9.100-21.500-21.500l10.300-92.800L388.800 83.200c3.800-3.800 10-3.800 13.800 0zm162-22.900l-48.800-48.800c-15.200-15.200-39.900-15.200-55.200 0l-35.400 35.400c-3.800 3.800-3.800 10 0 13.800l90.200 90.200c3.800 3.800 10 3.800 13.800 0l35.400-35.400c15.200-15.300 15.200-40 0-55.200zM384 346.200V448H64V128h229.800c3.200 0 6.200-1.300 8.500-3.500l40-40c7.600-7.600 2.200-20.500-8.500-20.500H48C21.500 64 0 85.500 0 112v352c0 26.500 21.500 48 48 48h352c26.500 0 48-21.500 48-48V306.200c0-10.700-12.900-16-20.500-8.500l-40 40c-2.200 2.300-3.500 5.300-3.500 8.500z"/></svg></div><div class="btn" style="left:1321px;top:308px;width:39px;height:30px;background:#d84a49;border:1px solid #c43f3e;line-height:28px"><svg class="ic" viewBox="0 0 448 512" style="width:12.25px;height:14px;fill:#fff;"><path d="M32 464a48 48 0 0 0 48 48h288a48 48 0 0 0 48-48V128H32zm272-256a16 16 0 0 1 32 0v224a16 16 0 0 1-32 0zm-96 0a16 16 0 0 1 32 0v224a16 16 0 0 1-32 0zm-96 0a16 16 0 0 1 32 0v224a16 16 0 0 1-32 0zM432 32H312l-9.400-18.700A24 24 0 0 0 281.100 0H166.800a23.720 23.720 0 0 0-21.400 13.300L136 32H16A16 16 0 0 0 0 48v32a16 16 0 0 0 16 16h416a16 16 0 0 0 16-16V48a16 16 0 0 0-16-16z"/></svg></div><div style="position:absolute;left:0;top:347px;width:1641px;height:47px;border-bottom:1px solid #ddd;background:transparent"></div><div class="chk" style="left:11px;top:361px"></div><div class="bar" style="left:39.0px;top:358.1px;width:92.8px;height:13.8px"></div><div class="bar" style="left:339.9px;top:356.1px;width:142.0px;height:13.9px"></div><div class="bar" style="left:894.9px;top:358.9px;width:93.9px;height:11.1px"></div><div class="btn" style="left:1225px;top:355px;width:39.5px;height:30px;background:#f5f5f5;border:1px solid #d6d6d6;border-bottom-color:#c2c2c2;line-height:28px"><svg class="ic" viewBox="0 0 512 512" style="width:14.00px;height:14px;fill:#222;"><path d="M216 0h80c13.300 0 24 10.700 24 24v168h87.700c17.800 0 26.700 21.500 14.100 34.100L269.700 378.300c-7.500 7.500-19.800 7.500-27.300 0L90.100 226.100c-12.600-12.600-3.700-34.100 14.100-34.100H192V24c0-13.300 10.700-24 24-24zm296 376v112c0 13.300-10.700 24-24 24H24c-13.300 0-24-10.700-24-24V376c0-13.300 10.700-24 24-24h146.700l49 49c20.100 20.100 52.500 20.100 72.600 0l49-49H488c13.300 0 24 10.700 24 24zm-124 88c0-11-9-20-20-20s-20 9-20 20 9 20 20 20 20-9 20-20zm64 0c0-11-9-20-20-20s-20 9-20 20 9 20 20 20 20-9 20-20z"/></svg></div><div class="btn" style="left:1272px;top:355px;width:42px;height:30px;background:#2fa58a;border:1px solid #2a957c;line-height:28px"><svg class="ic" viewBox="0 0 576 512" style="width:15.75px;height:14px;fill:#fff;"><path d="M402.6 83.2l90.200 90.200c3.800 3.800 3.800 10 0 13.800L274.400 405.600l-92.800 10.300c-12.400 1.400-22.900-9.100-21.500-21.500l10.300-92.800L388.800 83.200c3.800-3.800 10-3.800 13.800 0zm162-22.900l-48.800-48.800c-15.200-15.200-39.900-15.200-55.200 0l-35.400 35.400c-3.800 3.800-3.800 10 0 13.800l90.200 90.200c3.800 3.800 10 3.800 13.800 0l35.400-35.400c15.200-15.300 15.200-40 0-55.200zM384 346.200V448H64V128h229.800c3.200 0 6.200-1.300 8.500-3.500l40-40c7.600-7.600 2.200-20.500-8.500-20.500H48C21.500 64 0 85.500 0 112v352c0 26.500 21.500 48 48 48h352c26.500 0 48-21.500 48-48V306.200c0-10.700-12.900-16-20.500-8.500l-40 40c-2.200 2.300-3.500 5.300-3.500 8.500z"/></svg></div><div class="btn" style="left:1321px;top:355px;width:39px;height:30px;background:#d84a49;border:1px solid #c43f3e;line-height:28px"><svg class="ic" viewBox="0 0 448 512" style="width:12.25px;height:14px;fill:#fff;"><path d="M32 464a48 48 0 0 0 48 48h288a48 48 0 0 0 48-48V128H32zm272-256a16 16 0 0 1 32 0v224a16 16 0 0 1-32 0zm-96 0a16 16 0 0 1 32 0v224a16 16 0 0 1-32 0zm-96 0a16 16 0 0 1 32 0v224a16 16 0 0 1-32 0zM432 32H312l-9.400-18.700A24 24 0 0 0 281.100 0H166.800a23.720 23.720 0 0 0-21.400 13.300L136 32H16A16 16 0 0 0 0 48v32a16 16 0 0 0 16 16h416a16 16 0 0 0 16-16V48a16 16 0 0 0-16-16z"/></svg></div><div style="position:absolute;left:0;top:394px;width:1641px;height:47px;border-bottom:1px solid #ddd;background:transparent"></div><div class="chk" style="left:11px;top:408px"></div><div class="bar" style="left:39.0px;top:405.0px;width:94.8px;height:13.9px"></div><div class="bar" style="left:339.0px;top:404.2px;width:118.0px;height:15.8px"></div><div class="bar" style="left:894.9px;top:405.0px;width:86.0px;height:13.9px"></div><div class="btn" style="left:1225px;top:402px;width:39.5px;height:30px;background:#f5f5f5;border:1px solid #d6d6d6;border-bottom-color:#c2c2c2;line-height:28px"><svg class="ic" viewBox="0 0 512 512" style="width:14.00px;height:14px;fill:#222;"><path d="M216 0h80c13.300 0 24 10.700 24 24v168h87.700c17.800 0 26.700 21.500 14.100 34.100L269.700 378.300c-7.500 7.500-19.800 7.500-27.300 0L90.100 226.100c-12.600-12.600-3.700-34.100 14.100-34.100H192V24c0-13.300 10.700-24 24-24zm296 376v112c0 13.300-10.700 24-24 24H24c-13.300 0-24-10.700-24-24V376c0-13.300 10.700-24 24-24h146.700l49 49c20.100 20.100 52.500 20.100 72.600 0l49-49H488c13.300 0 24 10.700 24 24zm-124 88c0-11-9-20-20-20s-20 9-20 20 9 20 20 20 20-9 20-20zm64 0c0-11-9-20-20-20s-20 9-20 20 9 20 20 20 20-9 20-20z"/></svg></div><div class="btn" style="left:1272px;top:402px;width:42px;height:30px;background:#2fa58a;border:1px solid #2a957c;line-height:28px"><svg class="ic" viewBox="0 0 576 512" style="width:15.75px;height:14px;fill:#fff;"><path d="M402.6 83.2l90.200 90.200c3.800 3.800 3.800 10 0 13.800L274.400 405.600l-92.800 10.300c-12.400 1.400-22.900-9.100-21.500-21.500l10.300-92.800L388.800 83.200c3.800-3.800 10-3.800 13.800 0zm162-22.900l-48.800-48.800c-15.200-15.200-39.900-15.200-55.200 0l-35.400 35.400c-3.800 3.800-3.800 10 0 13.800l90.200 90.200c3.800 3.800 10 3.800 13.800 0l35.400-35.400c15.200-15.300 15.200-40 0-55.200zM384 346.200V448H64V128h229.800c3.200 0 6.200-1.300 8.500-3.500l40-40c7.600-7.600 2.200-20.500-8.500-20.500H48C21.500 64 0 85.500 0 112v352c0 26.500 21.500 48 48 48h352c26.500 0 48-21.500 48-48V306.200c0-10.700-12.900-16-20.500-8.500l-40 40c-2.200 2.300-3.500 5.300-3.500 8.500z"/></svg></div><div class="btn" style="left:1321px;top:402px;width:39px;height:30px;background:#d84a49;border:1px solid #c43f3e;line-height:28px"><svg class="ic" viewBox="0 0 448 512" style="width:12.25px;height:14px;fill:#fff;"><path d="M32 464a48 48 0 0 0 48 48h288a48 48 0 0 0 48-48V128H32zm272-256a16 16 0 0 1 32 0v224a16 16 0 0 1-32 0zm-96 0a16 16 0 0 1 32 0v224a16 16 0 0 1-32 0zm-96 0a16 16 0 0 1 32 0v224a16 16 0 0 1-32 0zM432 32H312l-9.400-18.700A24 24 0 0 0 281.100 0H166.800a23.720 23.720 0 0 0-21.400 13.300L136 32H16A16 16 0 0 0 0 48v32a16 16 0 0 0 16 16h416a16 16 0 0 0 16-16V48a16 16 0 0 0-16-16z"/></svg></div><div style="position:absolute;left:0;top:441px;width:1641px;height:47px;border-bottom:1px solid #ddd;background:transparent"></div><div class="chk" style="left:11px;top:455px"></div><div class="bar" style="left:39.0px;top:451.1px;width:88.9px;height:12.8px"></div><div class="bar" style="left:339.9px;top:452.0px;width:149.1px;height:14.1px"></div><div class="bar" style="left:894.9px;top:450.0px;width:84.9px;height:13.9px"></div><div class="btn" style="left:1225px;top:449px;width:39.5px;height:30px;background:#f5f5f5;border:1px solid #d6d6d6;border-bottom-color:#c2c2c2;line-height:28px"><svg class="ic" viewBox="0 0 512 512" style="width:14.00px;height:14px;fill:#222;"><path d="M216 0h80c13.300 0 24 10.700 24 24v168h87.700c17.800 0 26.700 21.500 14.100 34.100L269.700 378.300c-7.500 7.500-19.800 7.500-27.300 0L90.100 226.100c-12.600-12.600-3.700-34.100 14.100-34.100H192V24c0-13.300 10.700-24 24-24zm296 376v112c0 13.300-10.700 24-24 24H24c-13.300 0-24-10.700-24-24V376c0-13.300 10.700-24 24-24h146.700l49 49c20.100 20.100 52.500 20.100 72.600 0l49-49H488c13.300 0 24 10.700 24 24zm-124 88c0-11-9-20-20-20s-20 9-20 20 9 20 20 20 20-9 20-20zm64 0c0-11-9-20-20-20s-20 9-20 20 9 20 20 20 20-9 20-20z"/></svg></div><div class="btn" style="left:1272px;top:449px;width:42px;height:30px;background:#2fa58a;border:1px solid #2a957c;line-height:28px"><svg class="ic" viewBox="0 0 576 512" style="width:15.75px;height:14px;fill:#fff;"><path d="M402.6 83.2l90.200 90.200c3.800 3.800 3.800 10 0 13.800L274.400 405.600l-92.800 10.300c-12.400 1.400-22.900-9.100-21.500-21.500l10.300-92.800L388.800 83.200c3.800-3.800 10-3.800 13.800 0zm162-22.900l-48.800-48.800c-15.200-15.200-39.900-15.200-55.200 0l-35.400 35.400c-3.800 3.800-3.800 10 0 13.800l90.200 90.200c3.800 3.800 10 3.800 13.800 0l35.400-35.400c15.200-15.300 15.200-40 0-55.200zM384 346.200V448H64V128h229.800c3.200 0 6.200-1.300 8.500-3.500l40-40c7.600-7.600 2.200-20.500-8.500-20.500H48C21.500 64 0 85.500 0 112v352c0 26.500 21.500 48 48 48h352c26.500 0 48-21.500 48-48V306.200c0-10.700-12.900-16-20.500-8.500l-40 40c-2.200 2.300-3.500 5.300-3.500 8.500z"/></svg></div><div class="btn" style="left:1321px;top:449px;width:39px;height:30px;background:#d84a49;border:1px solid #c43f3e;line-height:28px"><svg class="ic" viewBox="0 0 448 512" style="width:12.25px;height:14px;fill:#fff;"><path d="M32 464a48 48 0 0 0 48 48h288a48 48 0 0 0 48-48V128H32zm272-256a16 16 0 0 1 32 0v224a16 16 0 0 1-32 0zm-96 0a16 16 0 0 1 32 0v224a16 16 0 0 1-32 0zm-96 0a16 16 0 0 1 32 0v224a16 16 0 0 1-32 0zM432 32H312l-9.400-18.700A24 24 0 0 0 281.100 0H166.800a23.720 23.720 0 0 0-21.400 13.300L136 32H16A16 16 0 0 0 0 48v32a16 16 0 0 0 16 16h416a16 16 0 0 0 16-16V48a16 16 0 0 0-16-16z"/></svg></div><div style="position:absolute;left:0;top:488px;width:1641px;height:47px;border-bottom:1px solid #ddd;background:transparent"></div><div class="chk" style="left:11px;top:502px"></div><div class="bar" style="left:41.0px;top:499.2px;width:90.0px;height:10.8px"></div><div class="bar" style="left:337.1px;top:497.3px;width:138.0px;height:14.7px"></div><div class="bar" style="left:894.9px;top:497.3px;width:99.9px;height:12.7px"></div><div class="btn" style="left:1225px;top:496px;width:39.5px;height:30px;background:#f5f5f5;border:1px solid #d6d6d6;border-bottom-color:#c2c2c2;line-height:28px"><svg class="ic" viewBox="0 0 512 512" style="width:14.00px;height:14px;fill:#222;"><path d="M216 0h80c13.300 0 24 10.700 24 24v168h87.700c17.800 0 26.700 21.500 14.100 34.100L269.700 378.300c-7.500 7.500-19.800 7.500-27.300 0L90.100 226.100c-12.600-12.600-3.700-34.100 14.100-34.100H192V24c0-13.300 10.700-24 24-24zm296 376v112c0 13.300-10.700 24-24 24H24c-13.300 0-24-10.700-24-24V376c0-13.300 10.700-24 24-24h146.700l49 49c20.100 20.100 52.500 20.100 72.600 0l49-49H488c13.300 0 24 10.700 24 24zm-124 88c0-11-9-20-20-20s-20 9-20 20 9 20 20 20 20-9 20-20zm64 0c0-11-9-20-20-20s-20 9-20 20 9 20 20 20 20-9 20-20z"/></svg></div><div class="btn" style="left:1272px;top:496px;width:42px;height:30px;background:#2fa58a;border:1px solid #2a957c;line-height:28px"><svg class="ic" viewBox="0 0 576 512" style="width:15.75px;height:14px;fill:#fff;"><path d="M402.6 83.2l90.200 90.200c3.800 3.800 3.800 10 0 13.800L274.400 405.600l-92.800 10.300c-12.400 1.400-22.900-9.100-21.500-21.500l10.300-92.800L388.800 83.200c3.800-3.800 10-3.800 13.800 0zm162-22.900l-48.800-48.800c-15.200-15.200-39.900-15.200-55.200 0l-35.400 35.400c-3.800 3.800-3.800 10 0 13.800l90.200 90.200c3.800 3.800 10 3.800 13.800 0l35.400-35.400c15.200-15.300 15.200-40 0-55.200zM384 346.200V448H64V128h229.800c3.200 0 6.200-1.300 8.500-3.500l40-40c7.600-7.600 2.200-20.500-8.500-20.500H48C21.500 64 0 85.500 0 112v352c0 26.500 21.500 48 48 48h352c26.500 0 48-21.500 48-48V306.200c0-10.700-12.900-16-20.500-8.500l-40 40c-2.200 2.300-3.500 5.300-3.500 8.500z"/></svg></div><div class="btn" style="left:1321px;top:496px;width:39px;height:30px;background:#d84a49;border:1px solid #c43f3e;line-height:28px"><svg class="ic" viewBox="0 0 448 512" style="width:12.25px;height:14px;fill:#fff;"><path d="M32 464a48 48 0 0 0 48 48h288a48 48 0 0 0 48-48V128H32zm272-256a16 16 0 0 1 32 0v224a16 16 0 0 1-32 0zm-96 0a16 16 0 0 1 32 0v224a16 16 0 0 1-32 0zm-96 0a16 16 0 0 1 32 0v224a16 16 0 0 1-32 0zM432 32H312l-9.400-18.700A24 24 0 0 0 281.100 0H166.800a23.720 23.720 0 0 0-21.400 13.300L136 32H16A16 16 0 0 0 0 48v32a16 16 0 0 0 16 16h416a16 16 0 0 0 16-16V48a16 16 0 0 0-16-16z"/></svg></div><div style="position:absolute;left:34px;top:37px;width:1px;height:498px;background:#ddd"></div><div style="position:absolute;left:333px;top:37px;width:1px;height:498px;background:#ddd"></div><div style="position:absolute;left:889px;top:37px;width:1px;height:498px;background:#ddd"></div><div style="position:absolute;left:1216px;top:37px;width:1px;height:498px;background:#ddd"></div><div style="position:absolute;left:8.5px;top:544px;line-height:20px"><svg class="ic" viewBox="0 0 512 512" style="width:12.50px;height:12.5px;fill:#444;"><path d="M216 0h80c13.300 0 24 10.700 24 24v168h87.700c17.800 0 26.700 21.500 14.100 34.100L269.700 378.300c-7.500 7.500-19.800 7.500-27.300 0L90.100 226.100c-12.600-12.600-3.700-34.100 14.100-34.100H192V24c0-13.300 10.700-24 24-24zm296 376v112c0 13.300-10.700 24-24 24H24c-13.300 0-24-10.700-24-24V376c0-13.300 10.700-24 24-24h146.700l49 49c20.100 20.100 52.500 20.100 72.600 0l49-49H488c13.300 0 24 10.700 24 24zm-124 88c0-11-9-20-20-20s-20 9-20 20 9 20 20 20 20-9 20-20zm64 0c0-11-9-20-20-20s-20 9-20 20 9 20 20 20 20-9 20-20z"/></svg></div><div style="position:absolute;left:24px;top:543px;width:66.5px;height:23.5px;border:1px solid #d2d2d2;border-bottom-color:#b5b5b5;border-radius:3px;background:#f7f7f7;font-family:'Liberation Serif',serif;font-weight:bold;font-size:14px;line-height:23.5px;text-align:center;color:#333">Baixar</div></div>
<div class="pg" style="left:239.5px;width:28.5px;border-left:1px solid #ddd;border-radius:3px 0 0 3px;font-weight:bold;">1</div>
<div class="pg" style="left:268px;width:28px;">2</div>
<div class="pg" style="left:296px;width:28.5px;">3</div>
<div class="pg" style="left:324.5px;width:66.5px;">Próxima</div>
<div class="pg" style="left:391px;width:55.5px;border-radius:0 3px 3px 0;">Última</div>
<div style="position:absolute;left:220px;top:1722px;width:1676px;height:2px;background:#f4f4f4"></div><div style="position:absolute;left:0;top:1724px;width:1896px;height:39.5px;background:#2E363F"></div><div style="position:absolute;left:533.5px;top:1734px;font-size:12px;line-height:20px;color:#686d73;white-space:nowrap">2018 - 2021 © GED - X2X-System</div>
</div>
<div style="position:absolute;left:1896px;top:1682px;width:2px;height:42px;background:#eee"></div>
<div style="position:absolute;left:1896px;top:1724px;width:2px;height:39.5px;background:#2E363F"></div>
</body></html>
